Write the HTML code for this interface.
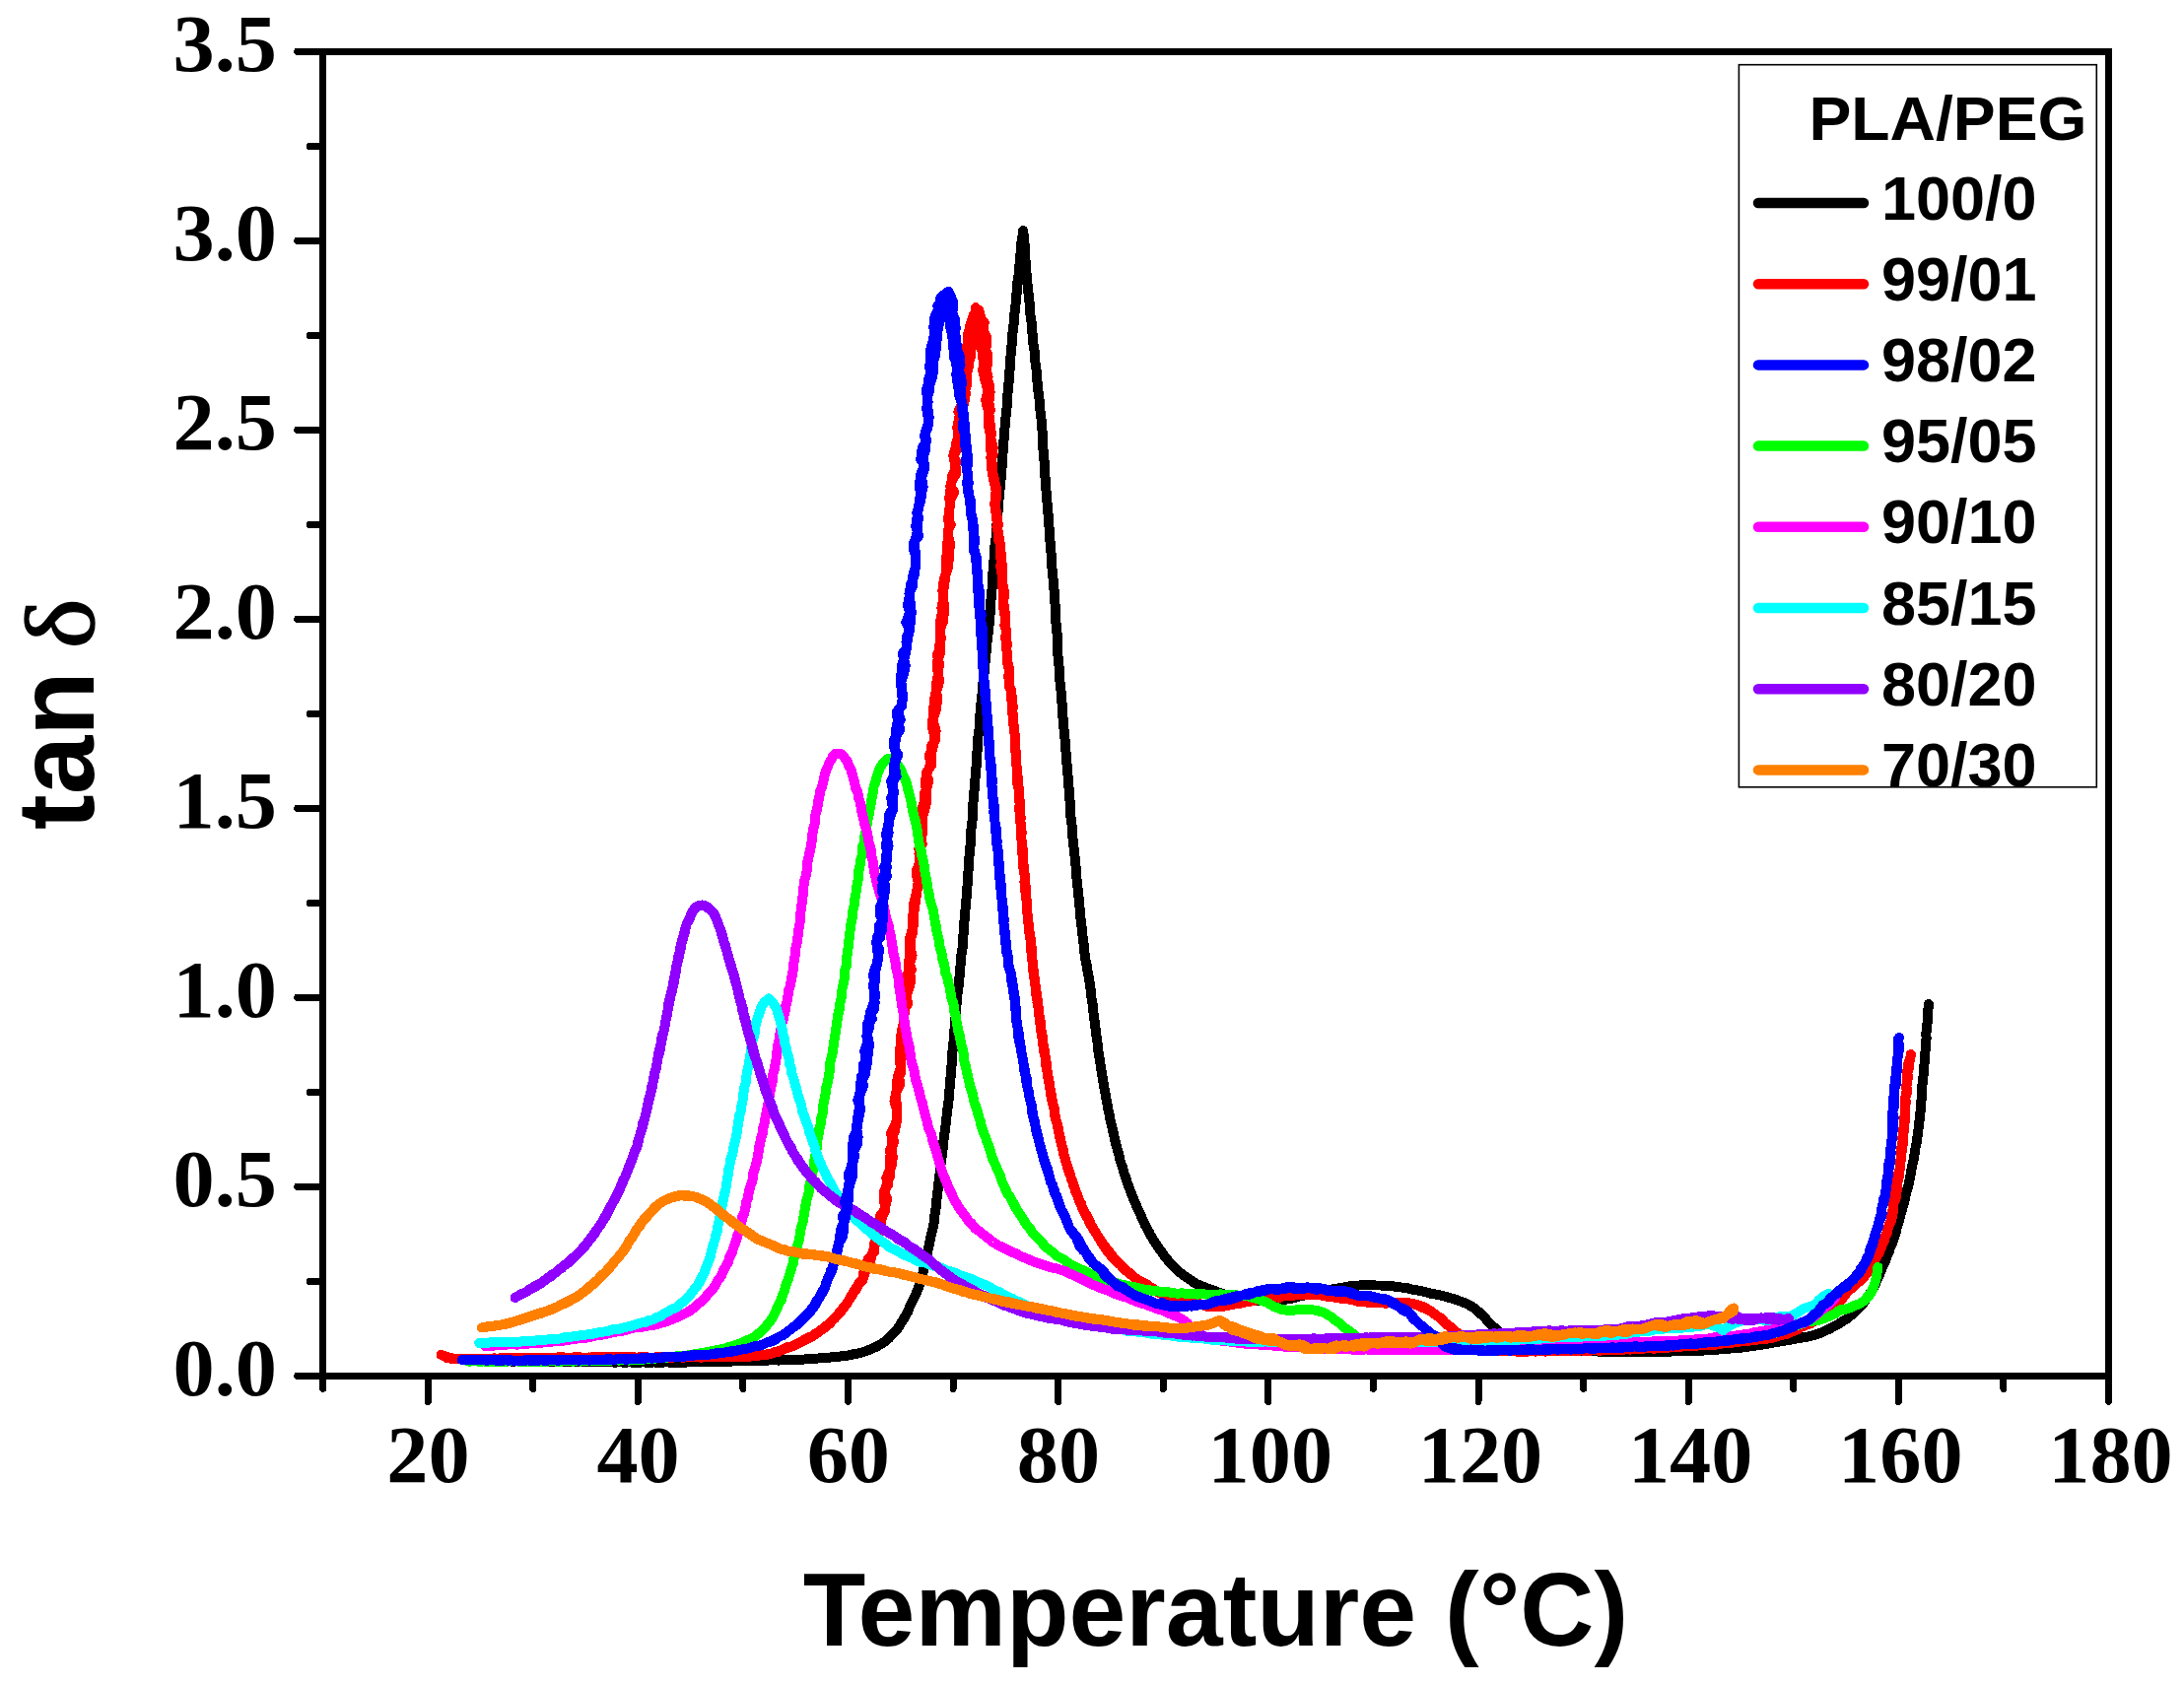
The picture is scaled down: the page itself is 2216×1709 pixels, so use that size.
<!DOCTYPE html>
<html lang="en"><head><meta charset="utf-8"><title>tan delta vs Temperature - PLA/PEG</title>
<style>
html,body{margin:0;padding:0;background:#fff;}
body{width:2216px;height:1709px;overflow:hidden;}
svg{display:block;}
.tick{font-family:"Liberation Serif","DejaVu Serif",serif;font-weight:bold;font-size:81.5px;fill:#000;}
.leg{font-family:"Liberation Sans","DejaVu Sans",sans-serif;font-weight:bold;font-size:63px;fill:#000;}
.axl{font-family:"Liberation Sans","DejaVu Sans",sans-serif;font-weight:bold;fill:#000;}
.crv{fill:none;stroke-width:10;stroke-linecap:round;stroke-linejoin:round;}
.ax{stroke:#000;stroke-width:7;stroke-linecap:round;fill:none;}
</style></head><body>
<svg width="2216" height="1709" viewBox="0 0 2216 1709">
<rect x="0" y="0" width="2216" height="1709" fill="#ffffff"/>
<g id="curves" shape-rendering="crispEdges">
<path class="crv" stroke="#000000" d="M480.0 1381.5L483.0 1381.4L487.0 1381.4L490.1 1381.3L493.1 1381.4L496.1 1381.7L500.2 1381.2L506.3 1381.4L510.4 1381.2L516.5 1381.2L519.5 1381.7L522.5 1381.5L528.6 1381.2L532.6 1381.2L536.6 1381.3L540.6 1381.4L545.5 1381.5L549.4 1381.2L553.3 1381.4L556.2 1381.5L560.0 1381.5L566.2 1381.7L572.3 1381.7L578.4 1381.7L582.3 1382.0L586.3 1381.7L591.2 1382.0L596.1 1382.2L600.9 1382.2L603.9 1382.0L609.8 1382.1L614.8 1382.2L620.9 1382.4L624.0 1382.6L628.9 1382.4L633.8 1382.6L639.9 1382.4L643.0 1382.8L649.1 1382.7L652.2 1382.4L657.4 1382.7L663.6 1382.5L669.8 1382.8L674.9 1382.4L680.9 1382.6L683.9 1382.6L687.8 1382.7L691.7 1382.7L697.3 1382.5L703.2 1382.3L709.5 1382.3L714.5 1382.5L720.2 1382.4L725.0 1382.2L729.8 1382.1L735.6 1382.1L739.5 1381.6L743.6 1381.5L747.8 1381.3L751.8 1381.3L754.6 1381.2L759.4 1381.3L764.5 1381.3L767.5 1381.0L773.8 1380.8L780.1 1380.5L786.6 1380.2L789.8 1380.6L796.1 1380.0L801.4 1380.0L804.4 1379.6L808.5 1379.7L813.3 1379.5L816.2 1379.5L821.6 1378.8L826.2 1378.9L831.9 1378.3L835.2 1378.2L841.5 1377.6L846.5 1377.0L849.5 1377.0L854.2 1376.3L857.9 1375.8L861.6 1375.4L866.7 1374.0L869.8 1373.6L874.8 1372.4L877.7 1371.4L882.3 1369.8L885.8 1368.2L889.4 1366.6L893.9 1364.0L897.4 1361.7L902.1 1357.9L904.9 1354.9L909.0 1350.3L911.1 1348.0L913.8 1343.5L916.1 1340.1L918.6 1335.6L921.2 1331.1L923.0 1326.2L924.4 1323.4L926.2 1319.8L928.7 1314.5L929.9 1311.7L931.9 1307.0L933.0 1304.1L933.9 1301.4L934.9 1297.5L936.0 1293.5L937.1 1288.5L938.7 1282.5L939.5 1279.5L940.5 1275.4L940.7 1272.2L942.2 1266.0L942.9 1262.0L944.1 1256.3L945.2 1251.4L946.2 1247.4L947.1 1244.3L947.6 1241.2L948.3 1237.9L948.3 1234.1L948.9 1230.2L949.6 1226.0L949.9 1220.6L950.9 1214.0L951.3 1210.7L951.8 1205.3L952.5 1199.0L952.9 1195.1L953.4 1192.2L953.8 1188.2L954.1 1184.2L955.0 1178.2L955.4 1175.2L956.1 1170.1L956.9 1164.1L957.4 1161.1L957.4 1158.0L957.9 1153.0L958.5 1150.0L959.0 1147.0L959.2 1144.0L959.8 1140.0L960.4 1134.0L961.1 1128.0L961.6 1124.0L962.3 1119.0L962.7 1115.0L962.9 1111.0L963.5 1105.0L963.9 1102.0L964.2 1096.0L964.9 1091.0L965.4 1087.0L965.4 1082.0L966.1 1078.0L966.3 1074.0L966.3 1071.0L966.6 1065.0L966.9 1061.0L967.8 1055.0L968.0 1049.0L968.4 1044.9L968.8 1041.9L968.9 1038.7L969.5 1032.5L969.7 1029.3L970.3 1024.2L970.3 1021.0L971.1 1017.0L971.0 1014.0L971.4 1009.1L971.9 1005.4L972.5 1001.8L972.8 996.7L973.6 990.7L973.6 987.8L974.1 984.1L974.3 981.3L974.8 978.4L975.1 973.2L975.4 969.2L975.9 966.5L976.6 961.9L977.1 956.0L977.3 951.0L977.6 947.9L978.1 943.8L978.1 939.6L978.4 935.4L979.1 930.2L979.2 926.1L979.6 922.0L980.2 919.0L979.9 916.0L980.5 912.0L981.0 908.0L981.1 905.0L981.5 899.0L982.1 893.0L982.3 888.0L982.5 884.0L982.8 880.0L983.4 875.0L983.3 871.0L983.8 866.0L983.9 863.0L984.7 857.0L985.0 852.0L985.1 847.0L985.4 843.0L985.8 837.0L986.7 832.0L986.7 827.0L987.0 822.0L987.2 818.0L987.7 812.0L988.3 807.0L988.5 803.0L988.6 800.0L988.9 797.0L989.2 794.0L989.6 789.0L989.7 785.0L990.3 781.0L990.8 775.0L991.0 769.0L991.2 765.0L992.0 759.0L992.4 755.0L992.5 752.0L992.4 748.0L992.7 745.0L993.5 740.0L993.9 734.0L994.0 731.0L994.2 727.0L994.5 724.0L994.9 721.0L995.1 718.0L995.4 715.0L995.7 709.0L996.3 706.0L996.7 702.0L996.8 698.0L997.6 692.0L998.0 686.0L998.9 681.0L998.9 677.0L999.5 673.0L1000.1 668.0L1000.2 664.1L1000.7 661.1L1001.1 658.2L1001.5 652.4L1002.0 647.5L1002.8 641.6L1002.9 637.6L1003.5 634.6L1003.5 631.6L1004.0 628.5L1004.7 622.1L1004.7 616.4L1005.0 612.6L1005.3 609.7L1006.0 604.9L1006.2 601.0L1006.7 596.0L1006.7 591.0L1007.3 584.9L1007.4 580.8L1008.2 574.6L1008.5 568.4L1008.8 564.3L1009.3 558.1L1009.5 553.0L1010.3 548.0L1010.6 545.1L1010.8 541.1L1011.0 536.1L1011.3 533.1L1011.6 530.1L1012.2 524.2L1012.3 521.1L1012.8 518.2L1013.1 513.1L1013.3 509.1L1013.8 504.1L1014.1 499.1L1014.8 494.1L1015.4 488.0L1015.9 482.0L1016.1 478.0L1016.5 475.0L1016.7 469.0L1017.2 465.0L1017.5 460.0L1017.7 456.0L1018.3 450.0L1018.6 445.0L1019.1 440.0L1019.4 436.0L1019.8 430.0L1020.1 426.0L1020.9 420.0L1021.5 414.0L1021.8 408.0L1022.0 404.0L1022.4 400.0L1022.7 397.0L1023.0 391.9L1023.7 387.9L1023.9 381.7L1024.3 377.5L1024.9 372.4L1025.1 366.2L1025.5 361.0L1025.8 356.9L1026.3 352.9L1026.8 346.9L1027.4 342.0L1027.3 339.0L1028.1 333.3L1028.7 327.7L1028.8 321.7L1029.9 315.3L1030.5 308.9L1030.8 304.8L1030.9 300.7L1031.6 297.7L1031.8 291.8L1032.1 288.9L1032.6 285.1L1033.1 282.3L1033.7 277.7L1034.0 272.7L1034.8 265.9L1034.8 262.5L1035.5 257.0L1035.9 252.9L1036.5 249.0L1036.4 246.3L1037.2 242.5L1037.9 235.5L1038.1 234.0L1038.6 238.0L1038.8 242.5L1039.5 246.3L1039.6 249.9L1040.1 256.0L1040.1 260.3L1040.7 265.9L1040.7 269.3L1041.4 275.9L1042.0 281.4L1042.2 286.3L1042.7 289.2L1043.1 293.2L1043.5 297.3L1043.9 301.4L1044.5 306.5L1044.9 312.8L1045.4 316.9L1045.5 320.0L1045.9 324.0L1046.6 327.0L1046.9 331.0L1047.3 334.0L1047.6 340.0L1048.1 345.0L1048.3 348.0L1049.2 353.0L1049.9 359.0L1050.1 365.0L1050.8 370.0L1051.3 373.0L1051.8 378.0L1051.9 384.0L1052.4 387.0L1053.0 391.0L1053.3 396.0L1054.2 402.0L1054.8 408.0L1055.4 414.0L1055.6 419.0L1056.5 425.0L1056.9 431.0L1057.5 437.0L1057.5 440.0L1057.8 443.0L1057.7 446.0L1058.3 451.0L1058.4 456.0L1059.0 459.0L1059.0 464.0L1059.8 469.0L1060.0 472.0L1060.3 476.0L1060.3 482.0L1060.8 488.0L1061.3 494.0L1061.5 498.0L1062.3 502.0L1062.2 507.0L1062.6 511.0L1062.9 516.0L1063.6 522.0L1063.7 525.0L1064.1 531.0L1064.5 535.0L1064.7 538.1L1065.3 543.1L1065.4 549.1L1065.9 552.1L1066.2 555.1L1066.5 561.2L1067.1 567.1L1067.2 571.1L1067.4 575.0L1067.6 578.1L1068.2 583.1L1068.6 588.1L1069.1 593.0L1069.4 597.0L1069.7 601.0L1069.9 604.9L1070.4 610.9L1070.6 614.9L1070.8 619.0L1071.0 622.0L1071.5 624.9L1071.4 630.9L1071.7 634.9L1072.4 639.8L1072.6 644.9L1072.7 647.9L1072.6 651.9L1073.1 656.9L1073.4 661.0L1073.5 666.0L1074.1 669.0L1074.4 674.0L1074.7 679.0L1075.0 682.0L1075.4 687.0L1075.4 691.0L1076.0 696.0L1076.5 701.0L1077.0 706.0L1076.9 709.0L1077.7 715.0L1077.6 718.0L1078.0 722.0L1078.3 725.0L1078.7 731.0L1079.1 737.0L1079.8 742.0L1080.1 745.0L1080.5 750.0L1080.6 753.0L1081.1 758.0L1081.6 764.0L1081.8 768.0L1082.3 774.0L1083.1 780.0L1083.2 783.0L1083.6 788.0L1084.0 792.0L1084.0 795.0L1084.7 801.0L1084.7 806.0L1085.3 810.0L1085.7 815.0L1085.6 819.0L1086.1 822.0L1086.5 826.0L1086.4 829.0L1087.3 835.0L1087.9 841.0L1088.0 845.0L1088.4 849.0L1088.6 853.0L1089.2 857.0L1089.5 860.0L1089.9 864.0L1090.3 867.0L1090.7 871.0L1090.7 874.0L1091.5 879.0L1091.8 885.0L1092.3 890.0L1092.8 895.0L1093.5 901.0L1094.0 906.0L1094.7 912.0L1094.8 915.0L1095.5 921.0L1096.0 927.1L1096.6 933.3L1097.4 939.6L1097.9 942.7L1098.4 948.9L1099.0 955.0L1099.6 958.0L1100.0 961.9L1100.3 966.6L1101.0 969.2L1101.6 975.4L1102.6 979.3L1102.6 982.3L1103.5 985.0L1104.5 990.7L1105.0 994.6L1106.0 998.8L1106.5 1003.5L1107.3 1008.2L1107.5 1013.0L1108.6 1019.0L1109.3 1025.2L1109.7 1030.4L1110.4 1034.6L1110.8 1037.7L1111.6 1043.9L1112.0 1049.0L1113.1 1055.0L1113.8 1060.0L1114.0 1063.1L1114.6 1068.2L1115.6 1074.2L1116.2 1077.2L1116.9 1083.2L1117.9 1088.2L1118.6 1093.2L1119.5 1098.0L1120.0 1101.0L1120.6 1105.1L1121.3 1108.2L1122.2 1113.2L1122.9 1118.3L1123.7 1121.2L1124.5 1126.3L1125.8 1132.2L1126.6 1137.2L1127.6 1141.1L1128.5 1144.0L1128.9 1147.0L1130.3 1152.0L1131.3 1157.1L1132.8 1163.1L1134.0 1167.0L1135.6 1172.9L1136.1 1176.0L1137.3 1179.8L1139.3 1185.5L1140.2 1189.6L1142.0 1194.5L1143.5 1199.5L1144.6 1202.4L1146.4 1207.2L1148.6 1213.0L1150.9 1218.6L1152.2 1221.3L1153.2 1224.1L1154.9 1227.8L1156.3 1230.7L1158.0 1234.5L1159.6 1238.3L1162.2 1243.8L1164.2 1247.3L1165.7 1249.9L1166.8 1252.6L1170.0 1257.8L1171.7 1260.4L1174.9 1265.7L1178.5 1270.5L1181.9 1275.2L1183.6 1277.4L1185.7 1279.8L1188.9 1283.8L1192.5 1287.3L1196.9 1291.3L1201.1 1294.4L1204.6 1296.8L1207.3 1298.6L1210.7 1301.0L1214.2 1303.1L1218.9 1305.0L1224.3 1307.2L1228.5 1308.7L1233.4 1310.4L1236.1 1311.5L1241.9 1313.5L1246.0 1314.5L1251.2 1316.1L1257.5 1317.4L1260.4 1317.9L1264.4 1318.3L1267.4 1318.7L1271.4 1319.2L1275.5 1319.8L1278.7 1319.7L1281.8 1320.2L1284.9 1320.0L1290.0 1320.1L1293.0 1320.4L1299.1 1319.5L1303.2 1319.0L1306.2 1318.4L1309.3 1318.1L1314.3 1316.8L1318.3 1315.6L1322.2 1314.7L1327.1 1313.6L1330.0 1312.9L1335.1 1311.7L1340.3 1311.1L1346.4 1309.8L1349.3 1309.1L1352.1 1308.4L1354.9 1307.8L1357.6 1307.4L1361.8 1306.8L1364.9 1306.2L1369.9 1305.3L1372.9 1305.1L1377.9 1304.7L1380.8 1304.2L1386.8 1304.0L1390.8 1304.4L1396.0 1304.5L1400.8 1304.5L1404.8 1304.5L1408.8 1305.2L1412.9 1305.3L1415.9 1305.8L1419.0 1306.0L1422.0 1306.5L1427.1 1307.0L1433.0 1308.6L1436.0 1309.0L1439.0 1309.6L1444.0 1310.7L1448.0 1311.6L1452.1 1312.8L1456.2 1313.4L1459.3 1314.0L1464.3 1315.2L1470.1 1316.8L1475.2 1318.1L1481.0 1320.3L1485.6 1322.0L1489.0 1323.4L1492.9 1325.7L1497.3 1328.6L1500.4 1331.4L1503.3 1334.2L1507.0 1337.7L1510.3 1341.7L1513.7 1345.3L1516.2 1347.2L1518.5 1349.2L1521.3 1351.7L1525.6 1354.3L1531.2 1357.1L1534.0 1358.6L1536.8 1359.6L1542.1 1361.7L1544.9 1362.6L1550.6 1364.5L1555.7 1365.6L1560.0 1366.4L1565.5 1367.2L1569.2 1368.2L1575.1 1368.7L1581.1 1369.4L1585.3 1369.6L1588.4 1369.7L1593.7 1370.0L1596.8 1370.5L1600.9 1370.7L1604.8 1370.7L1610.6 1371.1L1613.6 1371.3L1619.6 1371.4L1623.6 1371.7L1628.7 1371.8L1634.8 1372.0L1637.9 1371.6L1641.9 1371.7L1646.0 1372.0L1649.0 1372.2L1655.0 1372.1L1660.9 1372.1L1665.7 1372.1L1671.6 1372.2L1677.5 1371.9L1681.5 1371.9L1684.5 1372.0L1689.5 1371.9L1694.7 1371.6L1700.9 1371.2L1703.8 1371.3L1709.6 1371.2L1714.5 1371.0L1717.6 1370.7L1723.7 1370.8L1727.8 1370.6L1734.0 1370.0L1738.2 1369.6L1741.3 1369.8L1745.4 1369.3L1749.5 1369.2L1753.5 1368.7L1759.4 1368.2L1764.2 1367.9L1768.1 1367.5L1774.5 1366.5L1778.8 1365.9L1785.2 1365.1L1791.5 1364.1L1797.6 1362.8L1802.5 1362.1L1807.3 1361.2L1812.7 1360.2L1815.3 1359.9L1820.4 1358.7L1825.8 1358.2L1828.8 1357.3L1833.7 1356.7L1837.4 1355.8L1842.0 1354.6L1845.0 1353.6L1848.9 1352.2L1853.4 1349.9L1856.2 1348.8L1859.6 1346.8L1865.1 1343.9L1868.6 1341.6L1873.9 1338.4L1877.2 1335.7L1879.7 1333.8L1883.4 1330.1L1886.5 1327.2L1890.6 1322.5L1892.4 1320.0L1895.4 1315.7L1897.8 1312.1L1899.4 1309.4L1901.5 1305.8L1903.2 1302.2L1904.4 1299.3L1906.5 1294.6L1909.0 1288.9L1911.2 1283.1L1913.9 1277.5L1914.7 1274.5L1916.9 1269.7L1917.8 1266.7L1919.2 1263.9L1921.0 1259.1L1921.8 1256.2L1923.7 1250.5L1924.5 1246.5L1926.4 1240.8L1927.5 1235.9L1929.0 1231.0L1930.1 1227.0L1931.5 1222.0L1932.4 1219.1L1933.5 1214.0L1934.9 1208.0L1936.3 1203.1L1937.5 1198.1L1938.7 1192.0L1939.4 1187.0L1940.4 1182.0L1941.3 1179.1L1941.7 1176.1L1942.8 1170.2L1943.3 1167.2L1943.6 1164.1L1944.7 1160.0L1945.4 1154.2L1945.9 1151.2L1946.6 1145.2L1946.8 1142.1L1947.7 1136.1L1947.8 1132.0L1948.6 1128.0L1949.1 1122.0L1949.2 1119.0L1949.7 1115.0L1950.1 1110.0L1950.2 1106.0L1950.4 1101.0L1950.9 1098.0L1951.3 1095.0L1951.7 1089.0L1952.2 1083.0L1952.5 1080.0L1952.8 1076.0L1953.3 1070.0L1953.5 1067.0L1953.9 1062.9L1953.9 1059.8L1954.2 1056.7L1954.6 1053.7L1954.4 1050.6L1954.5 1047.6L1954.8 1044.7L1955.2 1040.9L1955.7 1036.8L1956.0 1031.7L1956.4 1027.8L1956.4 1024.9L1957.0 1019.0"/>
<path class="crv" style="stroke-width:12" stroke="#ff0000" d="M973.3 417.9L977.1 409.8L977.1 398.6L979.7 391.6L979.9 380.3L982.2 369.8L982.5 358.6L983.7 350.9L985.9 339.2L986.2 329.3L987.5 323.8L988.7 319.8"/>
<path class="crv" style="stroke-width:12" stroke="#ff0000" d="M993.7 319.8L994.3 329.3L997.5 334.1L996.6 340.2L998.2 345.6L998.5 355.6L998.4 364.4L1000.3 371.5L999.6 378.9L1000.0 384.3L1003.1 391.3L1003.0 398.0L1001.3 406.0L1002.7 411.0L1003.8 416.1L1003.5 417.2"/>
<path class="crv" style="stroke-width:13.5" stroke="#ff0000" d="M979.3 382.4L979.1 374.0L981.8 365.7L983.1 360.6L983.3 351.8L985.7 343.4L985.7 332.1L987.0 327.5"/>
<path class="crv" style="stroke-width:13.5" stroke="#ff0000" d="M997.0 327.5L994.7 333.1L998.0 340.2L996.6 351.8L1000.2 359.4L1000.5 368.4L998.8 375.7L1000.8 382.1"/>
<path class="crv" style="stroke-width:15" stroke="#ff0000" d="M984.0 350.9L984.4 340.2L985.5 337.1"/>
<path class="crv" style="stroke-width:15" stroke="#ff0000" d="M995.5 337.1L998.3 342.4L999.0 350.0L998.1 350.9"/>
<path class="crv" stroke="#ff0000" d="M447.5 1375.0L450.4 1375.9L456.1 1377.8L458.7 1378.2L462.9 1379.4L465.1 1379.0L466.9 1379.1L471.1 1379.1L474.3 1379.7L479.5 1378.7L483.4 1379.5L488.4 1379.1L494.9 1379.5L501.6 1379.1L507.4 1378.3L510.9 1378.5L518.0 1378.1L521.6 1378.3L525.2 1378.4L529.9 1378.4L534.5 1378.3L538.0 1378.1L542.5 1377.7L549.0 1378.3L554.9 1377.7L559.8 1378.4L565.8 1377.4L568.8 1377.9L573.9 1378.1L580.0 1377.8L584.1 1377.6L589.2 1377.8L592.3 1378.1L596.4 1377.5L599.5 1377.5L603.6 1377.4L609.7 1377.4L614.8 1378.1L620.8 1377.2L626.8 1377.2L629.8 1377.2L633.8 1377.3L636.7 1377.9L642.5 1377.4L646.3 1377.6L650.0 1377.1L656.4 1377.4L659.6 1377.6L664.9 1377.7L668.0 1376.9L671.2 1377.7L676.4 1377.0L682.5 1377.7L685.6 1377.0L689.6 1377.2L692.6 1377.7L697.6 1377.1L702.5 1376.7L708.3 1376.9L711.1 1377.7L714.9 1376.8L720.5 1377.0L723.2 1376.7L727.2 1377.0L733.8 1377.2L740.2 1376.4L746.6 1376.9L752.8 1376.7L755.8 1376.9L761.6 1376.4L766.3 1376.0L769.0 1375.4L774.1 1374.7L778.4 1374.7L781.5 1373.9L787.2 1372.2L790.9 1370.9L795.4 1369.3L798.8 1367.3L804.0 1366.4L808.8 1364.3L814.1 1360.8L818.6 1358.2L824.4 1356.0L828.6 1353.1L832.6 1350.1L836.8 1347.4L840.6 1344.2L842.5 1341.8L846.3 1338.5L849.5 1334.6L853.8 1330.2L857.1 1326.1L859.9 1321.8L861.9 1318.3L863.4 1315.6L865.3 1313.1L868.4 1309.0L869.5 1306.1L872.3 1301.7L875.4 1297.5L877.0 1288.0L881.0 1277.4L887.1 1270.7L887.6 1258.3L890.3 1250.9L893.9 1245.3L892.9 1234.2L897.5 1227.9L900.1 1216.9L897.0 1209.2L901.3 1201.9L899.3 1195.5L904.5 1183.7L905.9 1174.3L902.7 1168.2L907.3 1158.7L905.2 1152.4L908.2 1147.5L908.9 1141.4L910.5 1131.3L910.3 1125.1L909.7 1120.0L908.9 1109.7L913.5 1099.9L912.0 1093.6L914.5 1087.8L913.1 1077.8L913.0 1070.7L913.7 1059.4L914.1 1053.4L914.9 1045.5L916.8 1038.8L916.5 1030.7L916.8 1025.6L921.1 1018.8L919.5 1008.6L922.3 1001.1L920.3 989.2L925.0 984.0L921.9 976.7L923.5 968.6L922.7 962.6L923.3 951.4L926.8 939.4L926.7 929.8L928.5 918.0L929.9 907.4L931.9 895.2L929.8 887.9L933.3 876.0L932.5 866.8L934.8 857.8L935.6 846.8L936.2 834.8L935.1 828.7L934.5 823.7L937.9 813.8L938.4 804.3L940.4 799.4L942.5 792.3L939.7 786.7L942.5 779.9L945.0 773.2L945.4 762.5L945.2 756.8L948.7 752.0L949.6 741.5L946.2 731.2L949.5 721.6L951.3 709.7L950.2 701.5L953.1 691.5L951.3 680.1L953.4 675.1L950.9 665.0L953.6 657.4L953.9 645.2L954.1 638.4L957.2 629.7L958.0 617.4L957.3 608.7L957.2 599.5L959.0 587.0L959.8 580.7L960.0 568.4L960.6 562.4L961.5 550.2L961.6 539.1L964.8 532.4L961.9 527.2L963.2 518.4L964.2 507.4L968.3 499.5L964.3 494.0L966.4 486.0L970.0 481.2L969.3 476.1L969.7 467.3L967.3 462.3L969.6 453.9L970.6 447.9L973.4 443.1L972.4 437.0L973.2 429.0L977.1 418.2L976.2 406.8L974.9 400.4L980.9 390.9L980.8 379.4L980.5 369.8L985.1 362.0L980.8 352.4L983.9 340.1L984.4 332.9L990.0 322.9L990.0 312.1L993.2 319.9L994.3 331.4L998.8 339.0L1000.2 351.6L1000.6 361.3L1000.0 367.4L998.2 380.2L1000.8 390.4L1002.2 397.0L1002.5 405.0L1002.7 415.2L1003.7 422.3L1004.7 430.4L1005.7 438.5L1005.4 445.5L1007.8 454.4L1005.3 464.6L1007.0 471.5L1007.2 482.6L1009.5 492.5L1011.2 501.6L1009.9 513.0L1011.7 525.0L1011.7 528.0L1013.0 531.8L1011.4 534.8L1012.9 539.6L1012.5 546.0L1013.4 548.9L1014.8 551.8L1015.0 557.8L1015.5 560.7L1016.1 563.6L1015.9 568.7L1015.3 574.0L1015.6 577.9L1016.6 582.7L1017.2 585.6L1017.4 591.6L1017.1 595.6L1018.0 598.6L1017.6 604.7L1018.1 610.8L1018.1 614.9L1018.5 619.0L1019.5 624.0L1019.8 629.9L1020.2 635.9L1021.2 640.8L1021.1 645.9L1020.6 648.9L1022.0 653.9L1021.3 658.0L1021.9 664.0L1022.1 668.0L1021.9 671.0L1023.5 675.9L1024.0 681.9L1024.2 684.9L1024.5 691.0L1024.2 695.0L1025.7 700.9L1026.8 706.9L1026.8 712.0L1026.8 718.0L1027.3 721.0L1027.9 726.0L1028.3 729.0L1028.5 735.0L1029.2 741.0L1029.6 745.0L1029.5 749.0L1029.6 754.0L1030.1 760.0L1030.7 766.0L1030.7 772.0L1031.1 775.0L1031.7 779.0L1031.9 784.0L1032.6 788.0L1032.2 791.0L1032.4 796.0L1033.7 801.0L1033.6 805.0L1033.6 811.0L1034.8 816.0L1034.4 822.0L1034.6 825.0L1035.7 829.0L1035.4 833.0L1036.1 839.0L1036.7 845.0L1036.1 850.0L1037.0 856.0L1037.4 862.0L1037.5 868.0L1037.7 873.0L1038.0 876.0L1039.1 879.0L1038.9 884.0L1040.0 890.0L1039.4 895.0L1040.8 900.0L1040.6 904.0L1040.8 910.0L1041.5 913.0L1041.6 916.0L1042.2 919.0L1042.1 923.0L1042.6 928.1L1043.1 933.2L1043.6 938.3L1043.8 942.4L1044.7 946.5L1045.6 951.5L1046.3 957.5L1046.5 960.5L1046.9 966.3L1047.5 971.0L1047.2 974.2L1048.1 979.3L1048.2 983.4L1048.7 988.3L1050.0 993.1L1050.0 998.0L1050.6 1000.9L1051.2 1006.0L1051.5 1011.0L1052.8 1014.7L1052.5 1017.8L1053.4 1021.7L1053.9 1027.6L1054.9 1032.6L1055.3 1037.7L1056.2 1041.7L1056.5 1048.0L1057.3 1052.0L1057.9 1056.8L1058.5 1061.8L1059.0 1064.8L1059.7 1069.9L1060.7 1072.8L1060.9 1075.9L1061.4 1082.1L1062.1 1086.1L1063.3 1089.0L1063.1 1092.2L1064.2 1097.1L1064.7 1101.1L1065.7 1105.1L1066.6 1110.2L1067.7 1116.3L1067.9 1119.4L1069.3 1124.3L1070.3 1130.3L1070.5 1133.4L1071.5 1137.3L1072.8 1141.1L1074.0 1146.0L1074.6 1151.1L1075.2 1154.1L1076.5 1158.0L1077.3 1163.0L1079.2 1167.7L1079.4 1171.8L1080.9 1175.5L1081.5 1179.4L1082.7 1183.2L1083.8 1187.1L1085.9 1192.8L1087.2 1196.7L1088.5 1199.4L1090.1 1204.3L1091.1 1208.1L1092.4 1210.8L1093.3 1213.7L1095.0 1218.3L1096.2 1221.1L1097.9 1224.8L1099.2 1227.6L1101.7 1232.1L1104.1 1236.6L1104.8 1239.7L1106.8 1243.2L1108.9 1245.5L1111.6 1250.9L1114.3 1255.3L1116.1 1257.9L1119.6 1263.0L1123.4 1267.8L1127.1 1272.4L1129.4 1275.7L1133.9 1280.3L1137.4 1284.2L1140.5 1288.3L1145.6 1291.5L1147.7 1293.7L1150.0 1295.7L1153.2 1297.8L1155.8 1299.3L1159.4 1301.1L1164.3 1304.5L1166.7 1306.4L1171.5 1308.6L1176.2 1311.0L1180.7 1313.8L1185.4 1315.7L1189.4 1316.7L1192.4 1317.4L1197.5 1318.4L1200.4 1319.5L1205.4 1321.0L1208.6 1320.8L1213.4 1322.9L1218.4 1324.1L1224.5 1325.2L1230.5 1326.1L1236.5 1326.0L1241.5 1325.5L1246.5 1324.7L1249.6 1324.3L1252.4 1323.1L1255.6 1323.1L1258.6 1322.7L1261.5 1321.9L1265.5 1321.2L1271.5 1320.0L1274.5 1319.6L1279.5 1318.9L1283.6 1318.9L1289.5 1317.4L1294.5 1316.4L1298.6 1316.6L1303.4 1314.7L1306.4 1314.4L1310.5 1314.8L1314.5 1314.4L1318.5 1314.5L1321.5 1313.5L1326.5 1313.8L1330.5 1314.4L1334.5 1314.3L1339.5 1314.4L1345.5 1315.5L1349.5 1316.0L1355.6 1316.3L1359.5 1317.2L1365.6 1317.9L1370.6 1318.7L1373.5 1319.4L1377.4 1320.6L1383.5 1320.8L1389.6 1321.3L1392.6 1322.2L1396.7 1322.3L1400.7 1322.3L1406.6 1321.7L1412.7 1322.3L1418.7 1321.8L1423.7 1322.2L1428.6 1321.9L1432.6 1323.1L1436.6 1323.7L1441.5 1325.1L1447.0 1327.7L1450.3 1330.0L1455.5 1333.2L1458.6 1335.8L1463.6 1339.4L1465.7 1341.9L1468.9 1344.6L1473.2 1349.1L1476.4 1351.8L1478.8 1353.6L1481.5 1355.1L1484.5 1358.0L1487.1 1361.1L1491.8 1365.4L1497.4 1367.6L1501.9 1368.6L1507.9 1369.1L1514.3 1369.9L1520.0 1369.9L1523.4 1371.3L1527.9 1371.0L1530.7 1371.1L1533.5 1370.7L1539.4 1371.7L1543.4 1371.1L1548.6 1371.8L1552.8 1370.9L1558.2 1371.6L1562.6 1370.8L1567.9 1371.6L1570.6 1371.3L1573.3 1371.1L1576.1 1370.8L1579.9 1371.3L1585.8 1371.2L1590.7 1371.3L1595.7 1370.7L1600.8 1370.2L1607.0 1370.6L1611.2 1370.8L1615.3 1370.5L1621.5 1370.2L1627.8 1370.5L1632.9 1370.3L1638.0 1369.2L1641.0 1369.8L1647.1 1369.9L1650.1 1368.9L1654.1 1368.6L1658.3 1368.7L1663.5 1369.3L1666.5 1368.9L1670.7 1368.2L1673.8 1368.5L1676.9 1368.1L1681.0 1368.5L1686.1 1367.5L1692.1 1367.8L1697.1 1367.0L1703.0 1366.5L1708.7 1366.4L1712.4 1365.8L1715.2 1366.5L1721.4 1365.6L1725.6 1365.3L1730.9 1365.0L1734.0 1364.3L1737.1 1364.2L1742.1 1363.5L1746.1 1363.7L1750.0 1363.2L1753.8 1362.6L1757.7 1362.7L1762.3 1361.9L1766.1 1361.5L1771.3 1360.6L1776.7 1359.9L1783.1 1359.2L1789.4 1359.3L1793.4 1358.5L1798.1 1357.8L1801.5 1356.4L1805.1 1355.6L1808.2 1354.4L1813.2 1353.6L1818.4 1351.1L1821.8 1349.2L1826.6 1347.2L1831.2 1345.2L1836.9 1342.8L1839.9 1341.6L1844.6 1339.2L1848.3 1337.5L1851.6 1334.9L1853.8 1332.8L1856.9 1330.2L1860.4 1326.6L1863.0 1324.8L1864.8 1322.4L1868.6 1317.7L1872.2 1312.7L1876.1 1309.2L1881.2 1305.2L1885.8 1301.2L1888.3 1299.4L1890.6 1295.7L1894.3 1292.1L1896.8 1288.8L1899.8 1284.3L1900.6 1281.1L1902.6 1277.4L1906.2 1272.3L1908.2 1267.6L1909.3 1264.8L1911.2 1259.0L1912.7 1255.4L1914.1 1252.8L1914.7 1248.8L1916.7 1243.0L1919.1 1237.5L1920.3 1233.6L1920.0 1230.2L1920.6 1227.1L1921.6 1220.9L1923.6 1216.1L1922.8 1211.9L1923.8 1207.0L1924.6 1202.1L1926.0 1197.1L1926.9 1194.2L1926.8 1190.3L1927.7 1185.4L1928.3 1181.5L1928.2 1178.4L1928.9 1175.4L1928.6 1171.2L1928.9 1167.0L1929.8 1161.1L1930.8 1158.2L1931.1 1152.1L1931.3 1149.0L1931.1 1145.9L1932.2 1142.9L1932.5 1139.8L1932.5 1133.7L1933.5 1128.7L1933.3 1122.4L1933.8 1118.2L1933.1 1115.0L1933.7 1110.9L1934.7 1106.9L1934.1 1102.0L1935.5 1096.4L1935.5 1089.7L1935.3 1086.5L1937.0 1082.7L1936.3 1079.0L1937.8 1076.4L1938.8 1070.0"/>
<path class="crv" stroke="#ff0000" d="M447.5 1375.0L450.5 1375.8L453.0 1377.8L458.7 1379.0L464.0 1378.7L465.7 1378.9L468.2 1378.8L471.9 1378.9L475.1 1378.7L480.5 1378.7L485.4 1379.3L491.6 1378.7L494.9 1379.3L501.6 1378.3L507.4 1379.3L512.1 1378.3L519.2 1378.2L522.8 1379.0L529.9 1378.8L533.4 1378.8L538.0 1378.7L542.5 1378.3L545.8 1377.9L550.0 1377.7L554.9 1378.0L557.8 1377.6L563.8 1378.3L567.8 1377.4L571.8 1377.3L575.9 1378.3L580.0 1377.6L583.0 1377.3L588.2 1377.3L591.2 1377.7L597.4 1377.5L602.5 1378.0L608.7 1377.2L614.8 1377.1L620.8 1377.3L624.9 1377.3L628.8 1377.5L631.8 1378.0L636.7 1377.1L642.5 1377.1L645.3 1377.6L649.1 1378.1L652.1 1377.0L655.3 1377.9L660.7 1377.8L667.0 1377.3L673.3 1377.6L676.4 1377.8L680.5 1377.8L686.6 1376.8L692.6 1377.0L698.6 1377.5L701.5 1377.4L704.4 1376.8L710.2 1377.5L714.0 1377.3L719.5 1377.0L722.3 1376.9L728.3 1377.0L732.7 1377.3L739.2 1377.0L742.4 1376.4L748.7 1377.0L751.8 1376.8L757.8 1376.9L760.7 1376.6L765.3 1375.5L768.1 1376.0L773.3 1374.7L777.2 1374.5L782.5 1373.9L786.2 1372.1L789.2 1372.1L792.6 1370.2L798.1 1368.1L801.0 1367.3L804.8 1365.6L808.5 1363.7L811.4 1362.5L817.2 1360.0L822.7 1357.1L827.6 1353.4L831.3 1351.6L834.9 1348.2L837.1 1346.2L841.6 1343.8L843.4 1341.3L847.1 1337.9L850.5 1334.1L854.0 1330.3L855.4 1327.5L858.3 1324.5L861.0 1320.1L864.3 1314.9L866.4 1310.2L868.9 1306.9L870.8 1303.2L875.5 1298.7L877.5 1292.7L879.7 1283.5L883.2 1279.3L886.3 1268.3L889.3 1258.9L892.7 1247.2L893.7 1241.4L895.5 1233.7L898.3 1228.1L896.8 1216.4L897.3 1210.3L900.4 1199.7L902.9 1194.0L902.7 1184.6L902.5 1176.0L905.3 1167.5L905.3 1158.5L904.1 1150.2L909.7 1138.4L910.2 1126.2L907.5 1117.8L909.6 1106.7L909.7 1101.5L910.9 1092.5L913.2 1086.7L914.6 1075.1L914.9 1067.7L916.8 1056.7L916.9 1045.7L916.6 1035.8L917.5 1029.8L918.3 1023.6L918.2 1016.5L919.4 1011.6L923.3 1000.2L924.2 993.3L922.0 981.8L925.6 969.6L923.8 963.6L923.9 953.4L926.1 946.6L925.6 934.0L926.9 924.4L927.3 916.8L929.4 908.4L930.5 902.2L932.7 890.2L929.7 883.8L933.5 875.0L933.9 866.9L932.3 861.7L935.7 856.9L933.4 846.5L933.1 837.4L936.7 826.9L939.5 817.1L940.5 806.7L939.0 796.0L940.0 783.7L945.3 776.3L942.6 766.9L946.4 759.7L948.2 747.6L945.5 736.1L947.5 728.3L947.2 720.4L947.9 710.4L949.7 701.5L950.0 693.3L951.9 685.2L951.3 679.0L950.9 671.9L954.3 662.3L952.9 656.3L954.9 648.2L953.6 638.4L954.0 631.5L955.9 622.1L955.4 617.2L957.2 607.6L956.4 599.4L957.3 591.1L958.4 585.9L962.3 574.7L962.8 562.6L964.1 552.4L962.6 546.2L961.5 541.1L963.0 535.3L962.7 526.3L963.1 517.4L964.1 512.4L963.2 505.2L964.8 494.0L966.1 482.9L969.9 475.1L967.5 463.2L969.8 458.2L971.5 451.0L972.2 444.0L971.3 433.8L972.5 427.9L974.9 415.9L978.7 407.1L979.8 400.0L978.5 387.5L979.4 376.0L981.9 366.8L981.4 356.4L983.5 345.5L986.8 333.2L988.0 326.0L992.9 315.0L993.5 314.7L993.9 328.7L997.6 336.0L997.8 343.4L997.9 351.9L1000.8 358.3L1001.4 363.2L999.6 374.7L999.7 386.5L1004.6 397.8L1004.0 404.9L1001.1 411.2L1003.3 417.2L1002.9 427.5L1003.7 436.6L1005.1 441.5L1005.1 449.6L1004.7 456.6L1007.6 461.4L1005.6 466.6L1006.2 472.6L1006.5 477.6L1008.2 483.5L1011.0 495.5L1010.1 502.7L1009.3 512.0L1010.4 520.1L1010.9 523.1L1011.0 527.0L1013.0 531.8L1012.3 536.6L1012.7 541.8L1014.2 547.9L1014.7 552.8L1015.2 557.7L1014.6 563.8L1015.7 568.8L1017.1 573.9L1017.2 578.8L1016.6 582.7L1016.5 585.7L1017.4 588.6L1017.3 592.6L1018.5 597.5L1018.5 600.6L1018.9 604.6L1018.2 609.8L1018.7 614.9L1018.9 619.0L1020.5 622.9L1019.7 628.9L1019.4 634.9L1020.3 637.9L1021.2 642.8L1019.9 646.9L1021.5 651.9L1020.8 658.0L1022.4 663.9L1021.5 670.0L1022.8 675.0L1024.0 680.9L1023.0 687.1L1024.2 691.0L1024.2 697.1L1026.2 700.9L1026.2 707.0L1026.6 713.0L1027.9 716.9L1027.1 722.0L1027.6 727.0L1028.4 730.0L1027.9 733.0L1028.5 737.0L1028.8 741.0L1029.5 744.0L1029.8 750.0L1030.3 755.0L1029.7 758.0L1030.9 763.0L1031.3 769.0L1031.2 773.0L1031.7 779.0L1032.0 783.0L1032.5 789.0L1032.6 792.0L1033.5 798.0L1033.8 803.0L1034.3 809.0L1034.8 815.0L1034.2 819.0L1035.3 825.0L1035.4 829.0L1035.0 833.0L1035.8 836.0L1035.5 840.0L1035.8 843.0L1036.2 847.0L1036.1 850.0L1036.8 854.0L1037.4 857.0L1037.5 860.0L1037.8 864.0L1037.8 867.0L1037.7 872.0L1038.1 876.0L1038.3 881.0L1039.3 884.0L1040.0 890.0L1040.1 896.0L1040.4 901.0L1040.5 906.0L1041.0 909.0L1042.0 915.0L1041.5 918.0L1042.3 923.0L1042.4 926.1L1042.8 931.2L1043.4 936.3L1044.2 940.3L1044.4 946.5L1045.2 951.5L1045.9 956.5L1046.1 962.5L1046.6 967.3L1046.8 971.0L1047.5 974.2L1047.9 980.4L1048.6 984.3L1049.3 987.2L1049.4 993.1L1050.2 996.0L1050.8 1001.9L1051.2 1004.9L1052.3 1010.9L1052.4 1013.8L1052.8 1019.7L1054.0 1023.6L1054.0 1029.7L1055.6 1035.6L1055.5 1039.7L1056.0 1042.8L1056.9 1047.9L1058.1 1053.8L1058.5 1059.8L1058.9 1062.8L1059.9 1065.7L1060.6 1071.8L1061.1 1074.9L1061.7 1078.9L1062.3 1084.0L1062.7 1088.1L1063.8 1094.1L1064.9 1099.0L1065.4 1105.2L1066.1 1110.3L1067.0 1115.4L1068.6 1121.3L1069.6 1124.3L1070.0 1128.3L1070.8 1133.3L1071.4 1136.3L1073.1 1142.0L1073.5 1146.1L1074.4 1150.1L1075.5 1153.0L1076.4 1159.0L1078.0 1164.9L1079.1 1169.8L1080.0 1173.7L1080.9 1176.5L1082.6 1182.2L1083.2 1185.1L1084.7 1187.9L1085.9 1191.8L1086.7 1195.8L1088.1 1198.5L1089.0 1202.5L1090.8 1207.2L1091.5 1210.1L1092.9 1212.8L1095.0 1218.3L1097.1 1221.8L1098.5 1226.8L1100.4 1230.5L1103.3 1235.9L1105.5 1239.3L1107.9 1244.9L1109.4 1247.5L1111.3 1249.8L1113.2 1253.5L1116.3 1257.7L1117.9 1261.7L1120.6 1264.8L1122.6 1268.4L1126.3 1273.1L1128.9 1276.1L1133.2 1280.9L1136.6 1283.5L1140.2 1287.2L1143.4 1289.6L1146.9 1293.0L1149.3 1295.0L1153.0 1298.1L1158.3 1300.9L1162.9 1303.0L1167.8 1306.6L1172.4 1309.1L1175.8 1311.8L1178.6 1313.2L1183.5 1314.9L1189.3 1316.9L1193.3 1318.1L1199.4 1319.5L1203.5 1319.8L1208.4 1321.7L1211.4 1322.4L1214.5 1322.5L1220.6 1324.0L1225.4 1325.9L1228.5 1325.8L1234.5 1326.0L1240.5 1326.1L1246.5 1324.5L1250.5 1323.8L1254.5 1323.2L1259.5 1322.3L1262.4 1321.2L1267.5 1320.6L1270.5 1320.5L1273.4 1319.6L1279.4 1318.5L1283.6 1318.9L1288.4 1317.1L1292.4 1316.6L1295.5 1316.5L1300.4 1315.4L1306.5 1314.7L1310.5 1314.4L1313.5 1313.9L1318.5 1314.0L1322.5 1313.9L1327.5 1314.4L1331.5 1314.0L1335.5 1313.6L1339.5 1314.4L1344.5 1315.3L1347.5 1315.8L1351.5 1316.1L1355.5 1316.8L1359.5 1317.4L1363.4 1318.5L1366.5 1318.2L1371.6 1319.0L1374.5 1319.8L1378.5 1320.1L1382.5 1320.6L1388.5 1321.9L1394.7 1321.5L1398.7 1322.2L1401.7 1322.2L1406.6 1322.7L1410.6 1322.2L1416.7 1322.2L1422.7 1322.2L1428.5 1322.6L1432.6 1323.1L1437.5 1324.3L1442.1 1326.4L1447.6 1328.7L1450.5 1329.7L1453.0 1331.4L1455.2 1333.5L1459.5 1336.2L1462.1 1337.9L1466.4 1342.7L1468.8 1344.8L1472.4 1347.0L1474.7 1349.1L1478.5 1352.4L1481.7 1356.4L1484.6 1357.8L1487.6 1360.5L1489.5 1363.1L1492.9 1365.6L1497.5 1367.1L1501.0 1368.1L1503.9 1368.5L1506.8 1369.1L1512.1 1369.8L1517.7 1369.7L1523.4 1370.7L1526.1 1370.5L1531.6 1370.7L1535.5 1371.0L1538.4 1370.8L1544.4 1372.0L1550.7 1371.3L1556.0 1371.1L1561.5 1371.1L1567.9 1371.5L1572.4 1371.4L1577.1 1371.0L1582.8 1370.9L1588.7 1371.2L1591.7 1370.8L1597.8 1370.4L1600.8 1370.8L1606.0 1370.2L1610.1 1370.8L1614.3 1369.8L1619.5 1370.4L1623.6 1370.7L1626.7 1369.5L1632.9 1370.0L1638.0 1369.8L1641.0 1369.3L1645.0 1369.3L1648.0 1369.2L1654.2 1369.6L1657.2 1368.7L1661.4 1368.5L1667.5 1368.1L1671.7 1368.3L1674.8 1368.4L1678.9 1368.7L1682.0 1367.5L1686.1 1367.8L1689.1 1367.5L1693.1 1367.4L1699.1 1366.8L1702.0 1367.5L1707.7 1366.2L1710.6 1365.9L1713.4 1366.1L1716.1 1366.4L1719.2 1365.8L1725.6 1365.2L1731.9 1364.7L1738.1 1364.7L1742.2 1364.5L1746.0 1363.3L1751.0 1363.4L1754.8 1363.2L1759.5 1362.2L1765.1 1361.2L1770.2 1360.5L1774.6 1360.6L1780.0 1360.3L1785.2 1359.0L1790.3 1358.5L1794.3 1358.1L1799.9 1357.5L1805.1 1355.6L1808.3 1354.7L1813.3 1353.7L1815.9 1352.5L1818.5 1351.3L1824.1 1349.3L1826.6 1347.3L1831.1 1344.9L1837.1 1343.2L1842.6 1339.9L1847.9 1336.9L1850.5 1335.1L1854.0 1333.0L1858.5 1329.1L1861.0 1325.9L1863.7 1322.9L1867.3 1320.6L1869.7 1317.3L1871.8 1314.8L1873.4 1312.5L1876.0 1309.1L1879.0 1307.6L1882.5 1303.5L1885.3 1300.6L1888.3 1299.4L1891.7 1295.3L1894.9 1290.0L1899.0 1285.1L1902.5 1279.7L1903.3 1276.6L1905.7 1272.1L1907.9 1267.5L1910.1 1261.8L1911.9 1259.3L1912.6 1255.4L1914.8 1251.0L1915.3 1247.9L1916.4 1243.8L1918.9 1239.6L1919.0 1235.4L1921.0 1229.3L1920.6 1225.0L1921.2 1221.9L1921.7 1218.9L1923.3 1216.0L1924.4 1210.1L1925.2 1204.2L1925.6 1198.1L1925.3 1194.9L1926.1 1191.1L1928.1 1185.5L1928.2 1179.4L1929.0 1176.4L1929.5 1170.2L1930.4 1164.1L1931.0 1159.2L1930.2 1155.1L1931.5 1150.1L1931.5 1147.0L1932.2 1140.8L1931.6 1135.7L1932.8 1131.7L1933.3 1126.6L1933.2 1121.3L1933.4 1118.2L1933.0 1115.0L1934.7 1110.0L1935.0 1107.0L1934.4 1102.0L1935.3 1096.4L1935.0 1089.7L1936.7 1084.6L1936.0 1080.7L1936.9 1078.3L1938.6 1072.1L1938.8 1070.0"/>
<path class="crv" stroke="#00ff00" d="M475.0 1381.5L478.0 1381.5L483.0 1381.3L487.0 1381.9L490.0 1381.4L496.0 1381.9L499.0 1381.4L502.0 1381.8L506.0 1381.8L512.0 1382.0L518.0 1381.2L522.0 1381.1L526.0 1381.6L529.0 1381.8L535.0 1381.9L538.0 1382.0L542.0 1381.7L548.0 1381.9L553.0 1381.9L559.1 1381.2L562.2 1381.1L565.2 1381.8L568.3 1381.8L574.5 1381.0L578.7 1381.2L581.8 1381.7L584.8 1380.9L589.0 1381.6L593.0 1381.0L596.1 1380.7L599.1 1381.1L605.1 1381.0L609.0 1380.8L614.8 1380.5L617.7 1380.9L621.4 1380.3L624.1 1380.1L628.3 1380.6L631.5 1379.9L637.7 1380.6L641.7 1379.6L644.8 1380.1L647.7 1380.1L650.7 1380.0L655.5 1379.3L661.3 1378.8L664.2 1378.8L669.0 1378.0L672.0 1378.0L678.0 1377.5L681.1 1377.2L686.3 1376.4L689.5 1376.0L695.9 1375.7L700.1 1375.2L703.2 1374.6L707.2 1373.7L713.3 1373.2L717.9 1372.0L722.4 1371.2L727.1 1370.1L731.4 1369.3L735.6 1369.0L739.2 1366.9L742.1 1366.5L747.3 1364.5L750.2 1364.2L754.9 1361.5L760.7 1359.2L764.4 1357.6L768.5 1354.5L770.7 1352.4L774.0 1349.8L778.1 1345.0L780.7 1341.8L783.6 1337.8L786.2 1332.3L787.6 1329.5L789.3 1325.8L790.5 1323.0L792.7 1319.6L793.5 1315.6L795.9 1310.0L797.4 1304.0L799.7 1298.5L801.1 1293.7L802.0 1290.8L803.7 1284.9L804.8 1282.0L805.4 1276.9L807.1 1273.1L807.3 1269.9L809.1 1264.0L810.9 1258.1L811.4 1255.0L811.8 1252.0L812.8 1246.1L814.6 1240.2L815.0 1237.2L815.5 1234.2L816.6 1228.1L816.8 1225.1L818.0 1222.3L818.3 1218.3L819.2 1215.4L820.7 1209.4L821.4 1203.1L822.3 1200.0L822.9 1195.2L824.5 1189.5L825.8 1183.6L825.6 1179.5L827.0 1174.5L828.0 1168.5L828.9 1164.6L828.5 1161.4L829.0 1158.5L829.8 1155.6L830.4 1152.6L830.9 1148.7L831.3 1145.7L832.6 1140.8L832.5 1136.8L834.3 1132.0L834.8 1129.0L834.9 1123.0L836.1 1118.1L837.1 1113.2L837.8 1109.2L838.1 1104.2L839.2 1101.4L840.1 1096.4L841.2 1090.5L842.0 1085.6L841.6 1082.5L842.8 1076.5L843.9 1071.5L845.2 1066.6L845.7 1060.5L846.0 1057.6L847.2 1051.9L848.1 1045.8L848.6 1041.6L849.0 1038.6L849.6 1034.6L849.9 1031.6L851.1 1026.7L852.0 1022.9L851.8 1020.0L853.5 1014.1L853.8 1008.3L854.6 1003.5L856.0 997.2L857.0 992.6L857.1 989.9L857.3 987.1L857.5 983.2L858.8 980.3L858.5 975.0L859.3 970.8L859.8 967.6L860.7 961.3L861.2 955.0L861.9 950.9L862.4 946.0L862.9 940.7L864.2 934.5L864.8 930.3L865.0 927.2L865.4 924.1L866.9 918.2L866.8 915.1L867.6 911.2L868.6 905.4L868.8 901.3L869.9 897.2L870.7 892.1L871.0 889.1L871.2 884.1L872.3 880.2L872.7 877.2L873.3 872.0L874.6 868.2L874.9 864.2L875.3 858.2L876.7 855.3L877.1 850.2L877.5 847.2L879.0 841.3L879.8 835.4L880.4 831.5L881.5 827.4L882.0 824.3L882.9 819.2L884.1 813.2L884.7 809.3L885.4 806.5L886.2 801.9L886.7 797.5L888.5 793.3L889.7 788.0L891.0 784.2L893.0 778.7L896.7 773.9L899.4 770.7L902.4 769.8L906.5 772.3L909.6 774.6L913.1 779.6L914.8 782.9L915.9 785.7L918.9 791.5L920.5 797.7L921.2 801.3L922.2 804.1L923.6 810.0L924.8 815.0L925.7 820.2L926.4 824.4L928.1 830.4L928.8 833.2L929.4 836.2L930.0 839.1L931.0 844.1L931.4 848.2L932.3 854.2L933.3 859.2L934.8 864.0L935.3 868.1L936.3 871.1L937.1 875.2L937.9 879.4L938.6 885.6L939.4 888.6L939.8 894.6L941.2 898.2L941.5 902.1L942.9 908.0L943.3 911.8L944.6 916.6L946.6 922.7L947.3 926.9L948.2 931.5L948.9 937.5L950.2 940.5L950.5 945.8L951.7 950.0L952.8 955.3L952.9 958.5L954.6 964.4L955.8 968.2L955.7 971.1L957.3 976.3L958.1 979.4L958.7 982.5L959.1 986.6L961.3 992.3L962.0 995.2L962.4 998.2L963.4 1001.0L963.9 1004.0L964.7 1009.0L965.3 1013.0L966.4 1015.8L967.8 1020.6L968.3 1026.6L969.7 1030.4L970.4 1035.5L971.5 1041.4L972.3 1046.3L974.3 1052.0L974.7 1058.1L975.7 1061.1L977.1 1066.0L978.2 1072.0L978.2 1076.1L979.8 1082.0L980.9 1087.9L981.8 1090.9L983.1 1096.8L983.7 1099.8L985.0 1104.7L986.4 1108.5L987.5 1113.5L988.7 1119.4L990.6 1124.1L991.9 1127.9L992.9 1132.9L994.7 1137.6L995.1 1140.6L996.6 1145.4L998.1 1150.1L1000.3 1154.8L1000.9 1157.7L1003.4 1163.3L1005.2 1169.0L1006.4 1174.0L1008.8 1179.5L1010.6 1183.0L1011.3 1186.0L1012.9 1188.7L1015.0 1193.4L1016.4 1198.4L1019.0 1204.0L1020.6 1207.8L1022.8 1212.4L1024.9 1214.7L1026.7 1218.3L1029.2 1222.8L1030.9 1226.6L1033.3 1230.0L1035.5 1233.4L1038.3 1237.6L1041.6 1242.7L1044.9 1246.5L1047.1 1250.0L1049.6 1253.2L1054.0 1257.4L1058.1 1261.8L1059.7 1264.4L1064.3 1268.1L1068.5 1271.0L1072.2 1274.5L1075.8 1276.3L1078.5 1277.6L1080.9 1279.4L1085.8 1282.9L1089.4 1284.7L1092.1 1286.1L1096.6 1288.4L1101.3 1290.1L1104.0 1291.5L1107.7 1293.1L1111.3 1294.8L1114.3 1295.6L1117.8 1297.8L1120.8 1298.7L1124.7 1299.9L1130.7 1301.3L1135.4 1303.1L1141.4 1304.1L1145.2 1305.2L1149.2 1305.9L1154.3 1306.8L1157.4 1307.9L1162.2 1308.8L1165.1 1308.8L1171.0 1310.3L1175.2 1310.4L1180.4 1311.5L1185.7 1311.3L1190.8 1312.2L1195.0 1312.8L1199.1 1312.2L1205.3 1313.2L1211.6 1312.8L1214.7 1313.6L1218.8 1313.2L1223.9 1313.6L1229.8 1313.7L1233.5 1313.9L1237.8 1313.4L1241.0 1313.6L1244.0 1313.8L1248.0 1314.1L1252.8 1314.1L1255.6 1314.5L1260.6 1315.0L1265.9 1315.2L1268.9 1316.0L1271.8 1317.2L1276.6 1318.3L1281.4 1320.4L1285.6 1321.7L1288.2 1323.5L1292.6 1326.1L1296.6 1327.2L1300.3 1329.0L1306.3 1329.7L1311.5 1329.9L1317.9 1328.9L1322.0 1328.5L1327.2 1328.9L1333.1 1329.5L1337.0 1330.2L1343.0 1331.9L1347.5 1334.7L1351.8 1337.2L1354.0 1339.3L1357.5 1341.5L1361.3 1344.7L1365.3 1348.3L1369.6 1351.1L1373.4 1354.2L1376.3 1356.8L1381.7 1358.7L1386.8 1361.5L1392.1 1362.8L1396.6 1363.8L1399.9 1365.3L1404.0 1366.0L1406.6 1366.4L1411.9 1367.3L1417.6 1367.5L1420.5 1367.8L1424.6 1368.1L1430.9 1368.0L1434.1 1368.6L1440.8 1368.4L1446.5 1369.3L1452.5 1368.6L1457.7 1368.9L1460.4 1369.5L1463.1 1369.3L1465.9 1369.9L1470.7 1369.4L1473.5 1369.8L1477.5 1369.5L1480.4 1369.9L1486.5 1369.5L1491.6 1369.7L1494.7 1369.7L1501.0 1369.4L1507.3 1369.1L1511.5 1369.2L1517.9 1369.9L1524.2 1369.5L1527.3 1369.2L1533.6 1369.4L1537.8 1369.6L1542.9 1369.5L1547.0 1369.5L1552.0 1369.3L1555.0 1369.4L1558.1 1368.8L1563.1 1368.6L1567.2 1368.6L1572.3 1368.5L1577.5 1368.5L1581.6 1368.6L1584.7 1368.5L1590.9 1367.9L1595.0 1368.4L1599.1 1367.9L1604.2 1367.9L1609.3 1368.0L1613.3 1367.2L1617.3 1367.7L1620.3 1367.5L1624.3 1367.0L1630.2 1366.5L1633.1 1366.5L1636.0 1366.5L1640.7 1366.7L1646.3 1365.9L1651.1 1365.8L1654.3 1365.3L1659.7 1365.2L1662.9 1365.9L1666.1 1365.0L1670.3 1365.3L1673.4 1365.2L1679.6 1364.9L1684.6 1364.4L1687.7 1364.6L1693.6 1363.7L1698.5 1363.8L1701.4 1363.7L1704.3 1363.4L1707.1 1363.2L1709.9 1363.1L1714.5 1362.1L1717.3 1361.9L1721.1 1362.3L1724.4 1361.5L1728.7 1361.2L1733.9 1360.7L1737.0 1359.8L1741.1 1359.3L1747.0 1358.3L1750.1 1358.7L1755.8 1357.3L1758.6 1356.6L1761.4 1356.2L1764.2 1355.9L1769.1 1355.6L1775.6 1354.9L1778.8 1355.3L1781.8 1354.8L1784.9 1354.9L1788.8 1353.7L1792.6 1353.3L1796.4 1353.3L1800.1 1353.0L1803.3 1352.1L1806.1 1350.5L1809.1 1349.6L1814.1 1348.5L1818.5 1346.6L1824.3 1344.8L1829.3 1343.1L1832.0 1341.6L1835.0 1340.8L1840.1 1340.6L1845.1 1339.9L1849.0 1338.7L1854.7 1336.4L1859.2 1334.5L1862.9 1332.8L1865.0 1330.7L1867.7 1329.3L1870.7 1329.1L1876.7 1327.5L1882.2 1324.7L1886.2 1323.6L1888.8 1322.0L1892.0 1319.4L1894.0 1317.1L1897.5 1313.5L1899.4 1309.8L1900.7 1306.9L1902.7 1300.8L1904.1 1295.6L1904.8 1289.2L1905.3 1286.0"/>
<path class="crv" stroke="#ff00ff" d="M492.5 1366.0L495.5 1365.9L501.6 1365.5L504.7 1365.1L510.8 1365.3L514.9 1364.4L521.0 1364.3L525.1 1364.7L530.1 1363.5L534.2 1363.8L540.2 1363.2L545.1 1362.9L550.0 1362.6L554.1 1362.1L558.3 1362.1L564.4 1360.7L567.5 1360.5L571.7 1360.7L576.7 1359.8L580.7 1359.1L586.6 1358.4L589.6 1358.2L594.4 1357.7L598.2 1357.1L604.1 1355.6L607.3 1355.2L610.3 1354.7L613.2 1353.8L618.2 1353.4L621.9 1351.9L624.9 1351.6L628.8 1351.2L634.6 1350.0L640.4 1348.2L645.5 1347.2L649.7 1347.2L654.8 1346.0L658.8 1345.4L662.9 1344.8L668.7 1343.5L673.2 1342.0L676.1 1341.2L679.0 1340.0L683.9 1338.0L688.7 1336.1L692.3 1334.3L697.6 1331.7L701.0 1329.6L705.1 1326.5L709.5 1322.3L714.2 1318.7L717.9 1314.0L721.5 1310.3L725.2 1305.4L728.1 1299.9L731.8 1295.1L732.9 1292.3L734.0 1289.4L735.5 1286.8L738.6 1281.5L740.4 1275.6L743.1 1270.2L744.8 1264.3L746.9 1259.5L748.4 1253.5L749.8 1249.7L751.1 1244.8L752.3 1240.8L753.3 1234.7L754.9 1231.9L756.3 1226.0L757.2 1222.0L757.4 1218.8L759.0 1216.1L759.5 1211.0L761.0 1205.0L763.1 1199.1L764.1 1195.3L764.2 1191.2L765.4 1187.4L766.3 1184.5L767.6 1179.6L768.9 1173.6L769.8 1167.6L770.4 1163.6L771.4 1158.6L772.1 1155.6L773.9 1149.7L774.0 1145.5L775.8 1139.6L776.0 1136.6L777.1 1131.7L778.0 1127.8L778.8 1122.8L779.8 1117.8L780.6 1112.9L781.5 1107.9L782.5 1102.9L783.8 1096.8L784.1 1090.7L785.6 1085.9L786.6 1080.1L787.4 1075.9L788.2 1069.7L788.5 1066.7L788.9 1061.7L790.3 1056.9L790.9 1054.0L791.5 1048.8L792.3 1044.8L793.1 1039.9L793.9 1036.9L795.1 1034.1L795.6 1030.0L797.1 1024.0L797.2 1020.9L798.6 1016.1L799.1 1012.1L800.5 1007.5L800.4 1004.5L802.2 999.6L802.8 993.6L803.7 990.3L804.0 987.5L805.1 982.8L805.4 979.8L805.6 974.6L806.9 968.2L807.3 962.8L808.7 956.4L809.6 950.1L809.9 946.0L811.1 940.0L811.8 934.9L812.1 928.7L812.5 925.6L812.6 921.5L813.6 917.5L814.0 913.5L814.6 908.5L815.0 905.5L815.3 901.6L815.6 897.8L816.2 893.8L817.7 888.8L818.6 883.8L818.6 880.8L819.3 874.9L820.3 871.1L820.9 867.2L822.4 861.5L823.2 856.6L823.8 852.6L824.2 848.5L824.8 842.4L826.5 836.4L827.4 830.5L827.3 827.5L828.8 822.0L829.8 816.8L830.1 813.7L831.6 807.6L832.2 802.6L834.0 799.0L835.2 793.5L835.9 790.2L837.5 783.7L839.9 778.1L841.6 773.6L843.9 770.0L845.1 767.4L847.2 765.1L853.1 764.9L856.2 768.0L859.5 772.3L861.3 777.6L863.5 781.0L864.5 785.2L865.8 789.5L867.0 793.8L868.2 799.8L869.7 802.6L870.5 805.5L870.7 808.7L872.2 812.6L873.7 818.7L874.5 825.0L875.6 828.9L876.4 831.8L876.9 834.8L878.5 840.7L879.8 844.5L880.8 850.6L881.7 855.6L882.9 859.4L883.8 863.3L884.3 866.2L884.2 869.2L885.7 873.9L885.9 876.9L886.7 881.9L887.6 886.9L888.8 892.0L890.0 897.7L891.2 901.6L892.1 904.5L893.3 908.5L894.8 912.5L896.5 918.6L897.1 921.6L897.8 924.7L899.0 930.7L899.9 934.6L901.6 938.5L902.1 942.6L903.0 946.5L904.3 952.4L905.1 958.4L905.9 962.3L906.4 967.2L907.8 973.0L909.2 979.1L909.5 984.2L910.9 989.1L911.9 995.0L911.8 1000.1L912.8 1003.0L912.8 1006.1L914.0 1009.0L913.7 1012.2L915.3 1018.3L915.6 1024.5L916.7 1027.5L916.8 1032.5L918.2 1038.0L918.5 1042.3L919.7 1048.2L920.3 1052.0L921.0 1056.0L922.6 1061.8L923.3 1067.6L924.3 1073.5L924.9 1077.6L925.9 1081.5L927.4 1085.4L928.4 1091.4L929.0 1095.5L931.1 1101.4L932.0 1105.5L933.2 1109.5L934.2 1114.6L935.6 1118.4L937.0 1124.8L937.9 1127.9L939.1 1133.2L940.1 1136.2L941.3 1140.9L941.7 1143.6L944.0 1149.1L945.2 1151.7L945.9 1155.9L946.7 1158.3L947.4 1161.0L949.1 1165.7L950.1 1168.8L950.8 1171.9L952.6 1178.1L954.4 1183.9L956.2 1189.7L958.5 1195.4L960.4 1200.2L962.0 1203.9L963.5 1207.5L966.3 1213.2L969.0 1218.8L970.6 1221.4L973.1 1225.9L976.7 1230.7L979.2 1234.0L981.4 1237.3L983.3 1239.6L985.6 1241.5L989.2 1246.4L993.4 1249.3L996.5 1251.7L1001.1 1255.6L1004.5 1257.8L1007.5 1260.5L1012.6 1263.7L1015.4 1265.0L1019.8 1267.2L1023.4 1268.9L1027.0 1270.9L1030.9 1272.2L1036.2 1275.2L1041.1 1276.9L1046.7 1279.6L1051.7 1281.4L1056.6 1283.0L1059.5 1284.1L1064.4 1285.6L1070.3 1287.2L1073.3 1287.7L1077.1 1289.1L1081.8 1290.4L1084.3 1292.1L1090.1 1294.5L1092.7 1296.0L1096.5 1297.4L1102.0 1300.3L1104.8 1301.6L1108.3 1303.8L1111.4 1304.7L1114.2 1306.0L1119.1 1308.0L1122.0 1308.9L1125.9 1310.4L1131.4 1313.1L1135.3 1314.4L1139.2 1315.5L1143.1 1316.7L1147.7 1318.6L1151.4 1320.2L1155.3 1321.6L1158.4 1322.7L1162.1 1323.5L1167.8 1325.9L1170.9 1326.9L1174.8 1328.5L1179.9 1329.9L1185.1 1332.5L1189.1 1334.1L1195.1 1336.3L1200.2 1339.4L1202.7 1341.2L1205.1 1343.1L1207.0 1345.5L1211.1 1348.6L1214.9 1351.8L1219.2 1354.5L1223.9 1356.8L1227.6 1358.1L1230.3 1358.9L1236.1 1360.1L1242.4 1361.4L1246.0 1361.2L1249.3 1361.9L1254.6 1362.6L1258.5 1362.6L1263.4 1363.7L1266.5 1363.7L1269.6 1364.2L1272.9 1363.9L1279.2 1364.8L1284.6 1365.4L1289.9 1365.4L1294.0 1365.8L1299.0 1366.1L1304.0 1366.8L1309.0 1367.1L1312.0 1367.5L1318.0 1367.4L1324.0 1367.8L1329.0 1367.9L1333.0 1368.7L1339.0 1368.9L1344.0 1368.9L1349.0 1368.8L1353.0 1369.4L1357.0 1368.9L1361.0 1369.5L1365.0 1369.1L1370.0 1369.4L1376.0 1369.9L1381.0 1370.0L1386.0 1369.3L1391.0 1370.1L1394.0 1370.0L1398.0 1369.8L1402.0 1369.9L1407.0 1369.9L1412.1 1369.5L1418.1 1370.1L1423.1 1369.9L1426.2 1369.8L1432.2 1370.0L1438.1 1370.4L1443.1 1369.8L1449.0 1370.4L1453.1 1369.9L1458.0 1370.2L1461.0 1369.9L1463.9 1369.7L1468.8 1370.0L1472.7 1370.1L1476.7 1370.3L1479.7 1370.1L1484.7 1370.2L1489.9 1370.1L1492.9 1369.7L1495.8 1369.8L1501.6 1369.6L1504.5 1370.0L1510.4 1369.9L1513.3 1370.2L1518.3 1369.8L1521.3 1369.4L1526.4 1370.1L1531.5 1369.2L1535.6 1369.2L1538.6 1369.4L1544.8 1369.3L1547.9 1368.7L1552.0 1369.3L1556.8 1368.6L1562.8 1368.2L1567.9 1368.0L1573.0 1367.7L1576.1 1367.8L1579.2 1367.5L1582.2 1366.6L1587.4 1366.4L1590.5 1366.4L1593.5 1366.4L1598.6 1365.9L1602.5 1365.2L1606.5 1365.4L1611.3 1364.4L1615.2 1364.9L1621.2 1364.2L1625.4 1364.0L1630.5 1363.9L1634.5 1363.5L1640.5 1363.0L1643.4 1363.1L1646.4 1362.8L1649.3 1362.7L1655.1 1362.1L1659.1 1362.0L1663.0 1362.3L1666.0 1361.7L1671.1 1362.2L1674.1 1361.6L1679.4 1361.4L1684.7 1361.2L1691.0 1360.7L1694.1 1361.0L1697.2 1360.8L1702.3 1361.1L1705.2 1360.2L1710.9 1360.2L1714.4 1359.9L1720.4 1359.4L1725.6 1359.0L1728.6 1359.1L1731.5 1359.1L1736.2 1357.8L1741.0 1357.2L1744.0 1357.1L1749.0 1356.8L1754.0 1356.2L1760.1 1355.8L1766.0 1354.8L1772.2 1354.0L1775.3 1353.5L1779.4 1352.3L1783.5 1351.6L1788.4 1351.1L1793.1 1349.7L1796.2 1349.0L1800.0 1348.0L1804.9 1347.1L1809.8 1345.8L1815.9 1345.7L1819.0 1344.7L1823.1 1344.1L1826.2 1343.6L1829.1 1343.0L1832.1 1342.0L1834.5 1339.7L1838.4 1337.8L1843.6 1334.0L1847.1 1330.3L1849.8 1328.6L1853.2 1325.6L1855.6 1323.7L1859.8 1319.4L1862.0 1317.0"/>
<path class="crv" stroke="#00ffff" d="M486.2 1363.0L489.3 1362.8L495.4 1362.6L499.5 1362.1L505.7 1362.4L509.8 1361.7L515.0 1361.5L518.1 1361.9L524.3 1362.0L528.3 1361.5L531.3 1360.8L535.4 1361.4L538.4 1361.1L543.3 1360.5L547.1 1360.3L552.1 1359.8L555.3 1359.5L560.5 1358.9L563.7 1358.9L568.8 1358.4L573.8 1357.0L576.8 1357.0L581.8 1356.3L584.8 1356.4L587.6 1355.4L590.6 1355.2L596.3 1354.3L600.0 1354.0L605.2 1352.7L610.4 1351.8L616.6 1351.1L619.5 1349.9L622.5 1349.1L628.4 1348.7L632.1 1347.7L635.7 1346.6L639.7 1346.2L643.7 1344.6L649.5 1342.7L655.4 1341.8L657.9 1340.2L662.7 1339.2L665.3 1337.3L671.3 1335.4L673.6 1333.2L677.3 1331.5L681.4 1328.8L686.3 1326.8L691.0 1322.6L693.5 1320.8L696.4 1317.9L700.1 1314.5L703.6 1309.5L707.6 1304.6L709.8 1301.1L711.6 1297.3L714.1 1292.7L715.6 1288.8L717.1 1284.9L718.6 1281.0L720.9 1275.2L721.4 1272.1L722.0 1269.0L723.6 1264.0L725.3 1258.0L726.7 1252.3L728.1 1248.5L728.0 1245.4L729.6 1239.5L730.0 1236.5L731.3 1232.7L731.4 1229.6L732.6 1223.6L733.1 1220.6L734.4 1215.6L734.8 1211.4L736.3 1207.6L737.0 1202.5L737.6 1198.4L738.1 1195.3L739.2 1190.2L739.1 1187.0L740.2 1184.0L741.0 1179.1L741.4 1176.1L743.1 1171.3L744.0 1167.3L744.7 1162.2L746.4 1156.1L747.6 1150.2L748.1 1147.3L748.4 1144.2L749.2 1138.2L750.0 1135.2L750.0 1132.0L751.4 1129.2L752.2 1123.0L753.5 1117.1L754.0 1111.0L754.7 1108.0L755.0 1105.0L755.7 1102.0L756.9 1098.1L757.0 1095.0L757.8 1089.0L758.4 1086.0L759.5 1082.0L760.0 1077.9L761.0 1072.8L761.9 1066.6L762.4 1062.5L763.2 1057.5L764.9 1051.9L765.8 1047.9L766.6 1041.2L767.8 1035.8L769.1 1031.9L770.1 1029.2L771.6 1025.1L772.5 1021.7L775.3 1017.5L780.0 1013.6L784.4 1018.1L787.3 1022.6L788.6 1025.5L789.4 1028.9L790.9 1033.2L792.0 1037.7L792.7 1040.6L794.2 1046.8L794.6 1050.0L796.2 1055.3L796.5 1059.5L797.6 1062.5L798.2 1067.5L799.8 1071.3L801.1 1077.3L801.2 1080.4L802.5 1083.2L803.0 1088.3L804.4 1092.1L805.7 1095.9L807.2 1101.8L808.8 1107.7L809.5 1110.6L810.9 1115.5L812.4 1119.2L813.2 1122.1L814.2 1128.1L816.2 1133.0L817.9 1137.8L818.8 1140.7L820.0 1143.6L821.1 1148.6L822.8 1153.4L824.1 1156.2L824.8 1159.2L826.1 1162.0L827.2 1166.9L828.8 1170.7L830.6 1176.5L833.3 1182.0L834.4 1184.9L837.3 1190.5L839.4 1195.3L841.6 1198.8L844.2 1203.2L846.7 1208.9L849.3 1212.1L850.8 1216.0L853.9 1220.0L856.3 1223.3L858.1 1225.8L862.4 1230.2L864.0 1232.8L868.3 1237.3L870.5 1239.5L873.8 1242.0L878.1 1246.5L882.9 1250.4L887.6 1254.5L891.8 1257.6L896.7 1261.2L899.5 1262.7L901.7 1265.1L905.3 1267.2L908.3 1268.2L911.7 1270.4L916.0 1272.8L920.7 1275.0L926.4 1277.2L928.8 1279.0L933.4 1280.6L939.2 1281.6L944.8 1284.0L948.5 1284.9L952.2 1286.0L956.1 1287.0L960.9 1289.4L966.1 1290.8L970.1 1291.9L973.8 1293.9L977.6 1295.4L981.5 1296.7L986.5 1298.3L992.1 1301.1L997.8 1303.4L1001.7 1304.9L1004.5 1306.1L1008.8 1309.2L1013.8 1310.9L1018.2 1313.6L1021.8 1315.7L1027.6 1317.9L1030.1 1319.8L1035.9 1322.0L1039.6 1323.8L1043.1 1326.1L1047.7 1328.2L1050.6 1329.0L1054.1 1330.8L1059.9 1332.0L1062.7 1333.2L1068.8 1335.3L1073.5 1336.6L1078.0 1337.4L1080.5 1338.9L1084.4 1339.4L1089.2 1340.9L1095.3 1342.4L1099.6 1342.5L1102.6 1343.3L1105.7 1344.4L1111.9 1345.4L1116.0 1346.1L1120.9 1347.3L1126.0 1347.6L1128.9 1348.6L1132.9 1349.3L1139.0 1349.4L1143.9 1350.9L1148.9 1351.4L1153.0 1351.5L1157.0 1351.7L1162.0 1352.5L1165.0 1352.6L1169.9 1354.1L1173.0 1353.7L1178.1 1354.4L1184.2 1355.3L1187.3 1355.4L1193.4 1356.3L1196.4 1356.8L1199.5 1356.4L1202.5 1357.3L1207.5 1357.5L1210.5 1358.1L1216.3 1357.9L1221.0 1358.5L1226.3 1359.2L1232.2 1360.1L1235.2 1360.0L1238.1 1360.2L1241.0 1360.2L1244.9 1360.4L1248.8 1361.2L1252.0 1360.9L1258.5 1361.2L1263.9 1361.5L1268.6 1361.6L1274.3 1361.8L1279.2 1361.9L1284.2 1361.3L1288.3 1361.9L1292.4 1361.8L1298.7 1361.4L1304.0 1362.1L1307.2 1362.0L1312.5 1361.5L1316.8 1361.9L1322.8 1361.8L1326.6 1361.6L1329.5 1362.5L1335.2 1361.8L1339.1 1362.3L1342.1 1361.8L1348.0 1362.2L1352.0 1362.7L1357.0 1362.4L1360.0 1362.3L1364.0 1362.6L1370.1 1362.6L1376.3 1362.4L1380.4 1363.0L1384.5 1362.3L1387.6 1362.5L1392.8 1362.8L1397.9 1362.3L1401.9 1362.6L1405.9 1362.2L1409.9 1362.4L1413.9 1362.8L1417.0 1362.5L1420.1 1362.1L1426.3 1361.8L1429.5 1361.8L1434.7 1361.7L1437.9 1362.5L1442.1 1362.1L1447.3 1361.9L1452.5 1361.5L1457.7 1361.7L1461.8 1362.0L1464.8 1361.9L1470.8 1361.8L1474.7 1361.3L1479.5 1361.2L1483.2 1361.1L1487.7 1360.9L1491.1 1360.9L1496.5 1361.0L1503.0 1361.1L1506.1 1360.7L1512.1 1360.6L1518.0 1360.6L1523.7 1360.0L1526.5 1359.6L1530.3 1360.3L1533.2 1360.0L1539.0 1359.8L1544.0 1359.2L1548.0 1359.0L1553.0 1358.9L1556.0 1358.7L1562.0 1358.6L1567.0 1358.3L1572.0 1358.0L1576.0 1357.7L1580.0 1357.2L1585.0 1356.9L1591.0 1357.1L1595.0 1357.1L1600.1 1356.9L1604.2 1356.8L1608.2 1356.0L1614.4 1356.5L1619.5 1356.2L1623.5 1355.7L1627.5 1355.6L1630.5 1355.5L1636.3 1354.5L1641.1 1354.9L1644.1 1354.1L1649.4 1354.0L1654.4 1352.7L1658.3 1352.1L1664.3 1351.4L1668.2 1351.1L1673.1 1350.7L1679.0 1349.5L1684.1 1349.2L1690.2 1348.3L1693.3 1348.1L1696.4 1347.5L1701.6 1348.1L1712.5 1347.0L1725.1 1346.0L1730.4 1343.8L1735.6 1344.2L1743.4 1347.2L1748.3 1350.1L1754.2 1345.8L1763.4 1341.6L1773.6 1338.6L1785.1 1339.2L1794.2 1340.1L1799.2 1337.9L1805.1 1336.4L1812.2 1336.4L1819.3 1334.9L1829.8 1328.1L1841.9 1324.1L1845.3 1319.6L1851.4 1314.7L1855.5 1313.0"/>
<path class="crv" stroke="#8f00ff" d="M522.5 1317.0L525.2 1315.5L529.5 1312.7L532.6 1311.9L537.6 1308.4L543.2 1305.7L546.6 1303.5L550.2 1301.6L554.0 1298.2L557.3 1295.8L560.6 1293.4L565.0 1290.8L567.1 1288.5L569.9 1287.2L572.5 1284.1L577.6 1280.8L579.7 1278.5L582.6 1275.7L585.7 1273.2L587.6 1270.8L589.6 1268.5L593.8 1264.2L597.5 1259.4L601.3 1254.5L603.4 1252.2L605.8 1247.6L609.0 1243.6L612.1 1238.4L613.4 1235.6L616.2 1231.1L618.0 1227.4L620.9 1222.0L622.5 1219.4L625.1 1213.9L627.5 1210.5L628.7 1207.6L629.9 1203.7L631.9 1198.9L634.2 1194.4L635.4 1191.6L637.1 1186.8L639.1 1182.3L641.1 1176.6L642.7 1172.9L644.1 1168.0L646.0 1164.5L646.9 1161.6L647.7 1156.6L648.8 1153.7L650.0 1149.9L651.7 1145.1L651.9 1140.9L653.9 1136.1L655.0 1131.1L656.1 1127.2L657.2 1121.0L658.2 1116.1L660.1 1110.4L660.6 1106.3L661.1 1103.3L662.8 1097.5L663.7 1093.5L664.2 1088.5L665.4 1085.7L666.1 1081.7L667.0 1076.8L667.6 1072.8L669.5 1067.1L670.3 1062.1L671.2 1056.1L672.2 1053.2L672.7 1049.2L674.1 1044.4L674.9 1038.5L675.6 1035.5L676.6 1031.4L677.2 1028.3L678.1 1022.1L679.5 1016.2L680.0 1011.3L681.8 1006.4L682.9 1000.5L683.2 997.2L684.7 991.8L685.1 989.0L685.7 983.9L686.7 978.7L687.8 975.6L688.9 970.3L689.8 964.1L690.3 961.2L692.0 955.3L693.0 952.2L694.2 947.0L695.4 942.0L696.5 938.3L698.3 934.2L700.2 930.4L702.1 925.5L704.4 922.6L708.4 919.2L714.3 918.8L718.1 920.8L720.7 923.3L723.7 926.2L726.4 931.5L728.7 937.8L730.0 941.0L731.7 945.4L732.6 948.1L733.8 954.1L735.8 958.9L737.4 964.9L738.5 968.7L739.2 971.6L740.8 976.4L742.1 981.3L743.8 986.2L744.8 991.2L746.6 997.0L748.0 1002.0L749.4 1008.0L750.7 1014.0L752.3 1017.9L752.7 1022.1L753.3 1025.1L754.2 1028.1L755.3 1033.1L756.7 1038.0L757.9 1043.1L758.9 1047.1L759.9 1050.0L761.1 1052.9L762.0 1056.9L762.7 1060.9L763.8 1065.8L765.1 1069.6L766.1 1072.5L767.2 1075.3L768.8 1081.1L771.0 1086.8L771.4 1089.9L773.4 1095.7L775.0 1100.6L776.6 1106.5L777.8 1109.4L780.1 1113.9L781.1 1117.9L782.8 1122.8L785.2 1128.6L787.0 1133.4L789.0 1137.0L790.8 1140.6L791.4 1143.6L792.6 1146.4L794.6 1148.9L795.5 1151.8L798.2 1157.2L800.9 1162.5L803.9 1167.8L806.4 1172.3L810.2 1177.2L812.3 1181.9L815.9 1185.6L817.1 1188.4L819.8 1191.4L822.1 1193.5L823.8 1195.9L827.0 1199.8L830.8 1203.1L834.9 1207.5L839.7 1211.2L843.7 1214.2L847.6 1217.4L850.6 1220.0L855.8 1223.0L860.3 1225.2L863.1 1226.5L868.5 1229.7L871.5 1232.1L875.8 1234.5L880.0 1237.2L884.1 1240.3L889.7 1243.0L894.5 1246.9L899.0 1249.4L903.3 1252.3L907.2 1254.1L911.3 1257.4L916.9 1260.0L920.7 1263.1L923.1 1265.0L925.7 1266.8L929.1 1269.0L931.6 1270.6L934.7 1273.0L938.2 1275.0L941.5 1277.4L945.2 1280.9L948.5 1283.6L953.2 1287.8L957.2 1290.8L961.8 1294.3L966.6 1297.6L970.9 1300.7L974.1 1302.1L978.9 1305.1L983.5 1307.5L988.3 1309.8L990.9 1311.9L996.0 1313.9L1000.1 1316.4L1003.8 1317.9L1009.4 1320.4L1013.3 1321.8L1018.9 1324.8L1023.0 1325.7L1025.8 1327.3L1029.8 1328.4L1032.5 1329.9L1038.3 1331.5L1043.1 1332.9L1047.1 1333.5L1050.9 1334.5L1055.7 1336.1L1060.7 1336.9L1064.7 1337.9L1067.8 1338.4L1072.9 1338.7L1078.6 1339.9L1082.4 1341.5L1085.5 1341.6L1088.4 1342.6L1094.5 1343.2L1100.7 1344.1L1106.8 1345.5L1112.9 1346.4L1118.0 1347.0L1122.0 1347.2L1125.0 1348.0L1129.9 1348.9L1134.0 1348.6L1139.0 1349.4L1145.0 1349.6L1148.0 1350.1L1153.0 1350.2L1158.0 1349.9L1161.0 1350.8L1164.0 1351.1L1168.0 1350.6L1172.0 1351.0L1176.0 1351.4L1181.0 1352.6L1185.0 1352.9L1188.0 1353.1L1193.0 1353.5L1199.0 1354.3L1203.0 1354.9L1206.0 1354.7L1212.0 1355.2L1215.0 1356.1L1220.0 1356.0L1223.0 1356.5L1228.0 1356.7L1233.0 1356.7L1238.0 1357.4L1241.0 1357.4L1246.0 1357.5L1249.0 1358.3L1253.0 1358.5L1257.0 1358.6L1260.0 1358.8L1263.0 1358.6L1269.0 1359.1L1274.0 1359.3L1277.0 1358.8L1282.0 1358.8L1285.0 1359.1L1290.0 1359.1L1296.0 1359.3L1300.0 1359.0L1303.0 1359.1L1309.0 1359.2L1313.0 1358.8L1319.0 1358.8L1325.0 1358.9L1329.0 1359.0L1333.0 1358.7L1337.0 1358.6L1343.0 1358.9L1346.0 1358.2L1352.0 1358.1L1357.0 1358.4L1362.0 1358.1L1368.0 1358.1L1374.0 1358.1L1378.0 1357.6L1382.0 1357.9L1386.0 1357.3L1390.0 1357.8L1394.0 1357.1L1400.0 1357.6L1406.0 1357.5L1410.0 1356.9L1413.0 1357.5L1419.0 1357.1L1423.0 1356.7L1429.2 1357.1L1433.5 1357.2L1437.7 1356.8L1443.1 1356.5L1449.4 1356.4L1454.6 1357.0L1457.6 1356.5L1460.5 1356.5L1464.2 1356.9L1469.4 1356.5L1473.3 1356.3L1476.3 1355.6L1479.9 1355.7L1483.4 1355.2L1486.3 1355.4L1492.0 1354.6L1494.9 1355.2L1497.2 1355.0L1499.7 1354.2L1502.2 1354.0L1506.8 1353.9L1511.6 1353.5L1515.6 1353.6L1518.7 1353.8L1525.0 1353.4L1531.5 1352.6L1537.0 1352.8L1540.3 1351.9L1545.8 1351.7L1551.3 1352.1L1556.7 1351.7L1562.9 1351.1L1566.0 1350.7L1572.0 1350.4L1576.1 1350.7L1582.2 1350.7L1588.4 1350.8L1594.6 1350.6L1597.7 1350.8L1601.9 1350.5L1606.0 1350.5L1612.1 1350.1L1617.1 1350.6L1621.1 1349.6L1625.1 1349.8L1630.9 1349.8L1634.7 1349.9L1637.4 1349.3L1640.2 1349.6L1651.5 1346.4L1664.0 1345.6L1670.0 1344.8L1679.5 1342.3L1689.2 1342.2L1698.4 1340.0L1710.2 1337.8L1715.7 1339.0L1723.3 1336.4L1728.0 1338.3L1735.1 1334.6L1744.9 1336.5L1750.9 1336.3L1757.6 1338.9L1764.0 1336.4L1769.8 1339.6L1779.9 1339.6L1787.0 1337.3L1794.0 1339.2L1804.1 1338.0L1811.0 1338.9L1815.0 1338.0"/>
<path class="crv" stroke="#8f00ff" d="M522.5 1317.0L525.2 1315.5L529.7 1313.2L535.2 1310.3L538.6 1308.0L543.7 1304.7L547.5 1303.1L552.4 1299.4L555.7 1297.1L559.3 1295.1L563.3 1291.8L568.0 1288.0L570.2 1286.0L573.4 1283.6L575.8 1281.9L577.8 1279.5L580.9 1276.9L585.7 1273.2L589.0 1269.4L593.2 1265.0L595.5 1261.6L599.1 1256.8L601.0 1254.3L604.0 1250.1L606.5 1246.8L608.8 1243.4L611.1 1240.1L613.8 1235.8L615.3 1233.0L617.5 1228.3L620.5 1222.9L622.5 1219.4L624.1 1216.8L625.6 1214.1L627.5 1209.3L630.1 1203.7L632.0 1200.1L632.7 1197.1L634.8 1193.5L636.9 1187.8L637.8 1185.0L640.3 1179.5L641.6 1175.7L643.6 1170.0L644.6 1167.2L646.5 1162.5L647.5 1159.7L648.4 1154.7L649.4 1151.8L651.0 1146.0L652.5 1141.1L653.9 1136.1L654.5 1133.1L655.6 1129.2L656.9 1124.2L657.9 1118.1L659.5 1112.3L661.0 1106.4L662.3 1100.5L663.0 1094.4L664.2 1089.5L665.6 1084.7L666.4 1080.7L667.3 1074.8L668.1 1069.8L669.4 1064.0L670.7 1059.1L671.2 1054.0L672.1 1050.1L673.6 1046.3L674.6 1041.4L675.1 1037.5L676.4 1031.3L677.6 1025.1L678.3 1019.0L679.5 1013.3L681.3 1007.3L681.7 1004.4L682.7 1000.5L683.9 997.3L683.8 994.3L684.6 989.8L685.9 986.1L686.3 980.8L687.6 975.6L688.3 970.2L689.8 966.2L690.9 961.3L691.1 958.5L691.9 954.2L693.5 950.1L694.9 946.1L696.0 940.2L696.9 937.5L699.1 933.6L701.7 927.5L702.8 924.8L706.5 920.4L712.5 918.5L715.1 919.4L719.8 922.5L723.7 926.1L725.3 928.6L726.4 931.6L728.3 935.5L729.5 940.0L731.4 944.5L732.3 948.2L733.3 951.0L734.0 954.0L735.7 960.0L737.1 963.9L737.9 966.9L739.1 971.7L740.8 977.5L742.3 982.3L743.9 987.2L745.2 991.1L746.4 997.0L747.4 1000.0L748.2 1003.0L749.3 1008.0L750.6 1014.1L752.5 1020.0L753.6 1022.9L753.6 1026.1L754.6 1029.0L756.1 1033.9L757.4 1040.0L758.6 1046.1L760.1 1050.0L761.1 1055.0L763.3 1060.7L764.1 1063.6L765.1 1067.5L766.0 1072.5L768.3 1078.1L769.6 1083.0L770.3 1086.0L772.0 1090.8L774.1 1096.6L775.7 1102.5L778.0 1108.2L778.9 1112.2L781.3 1117.8L782.5 1120.7L784.4 1125.6L785.0 1128.7L786.6 1132.5L788.6 1137.2L790.4 1140.7L792.6 1145.3L794.6 1148.9L796.7 1154.6L799.6 1159.8L802.4 1163.9L803.7 1167.9L805.8 1171.5L807.7 1173.9L810.0 1178.5L812.1 1180.8L813.8 1183.3L815.3 1186.1L817.3 1188.3L819.3 1190.5L821.3 1192.8L823.5 1196.2L827.5 1199.3L830.0 1202.5L833.3 1206.3L836.7 1208.5L840.5 1211.9L842.6 1214.0L846.0 1216.2L848.9 1219.0L854.0 1222.1L857.6 1223.9L861.0 1226.1L865.7 1228.4L868.4 1229.9L870.6 1231.7L874.2 1233.4L876.7 1234.9L881.6 1238.5L884.0 1240.4L889.5 1243.3L894.0 1245.8L897.2 1248.3L900.8 1250.4L903.6 1251.8L908.0 1254.7L913.3 1258.1L917.5 1260.9L920.6 1263.2L923.1 1265.0L926.9 1266.9L930.9 1269.8L933.2 1271.7L935.5 1273.7L940.7 1276.8L943.0 1278.8L945.9 1281.8L949.2 1284.5L954.2 1288.3L958.7 1291.8L963.3 1295.7L966.5 1297.7L968.9 1299.6L971.6 1301.1L975.0 1302.4L979.8 1305.6L983.6 1307.2L986.2 1309.0L991.9 1312.3L996.8 1314.4L1000.4 1315.7L1004.8 1318.0L1007.4 1319.7L1013.3 1321.9L1019.0 1324.6L1024.0 1326.2L1027.9 1327.6L1032.7 1329.3L1037.3 1331.5L1042.1 1332.9L1045.0 1333.4L1050.8 1334.9L1054.7 1335.5L1058.6 1336.6L1061.6 1337.3L1067.9 1338.0L1073.9 1339.0L1078.6 1340.0L1081.5 1340.9L1084.5 1341.0L1088.4 1342.2L1092.5 1342.8L1095.5 1343.8L1100.6 1344.8L1104.8 1344.9L1110.8 1346.2L1116.0 1346.7L1119.0 1346.9L1123.0 1347.5L1127.0 1347.9L1130.0 1348.7L1132.9 1349.1L1136.0 1348.5L1139.0 1349.2L1143.0 1349.5L1149.0 1349.4L1153.0 1350.1L1158.0 1350.4L1163.0 1351.0L1168.0 1351.3L1171.0 1351.0L1174.0 1351.5L1180.0 1351.8L1183.0 1352.7L1186.0 1352.3L1189.0 1353.3L1194.0 1353.6L1198.0 1353.9L1201.0 1354.8L1207.0 1355.1L1210.0 1355.6L1213.0 1355.2L1217.0 1355.9L1223.0 1356.6L1229.0 1356.5L1235.0 1357.3L1241.0 1357.3L1247.0 1357.8L1252.0 1358.3L1256.0 1358.6L1260.0 1358.6L1263.0 1358.4L1268.0 1358.3L1271.0 1358.9L1274.0 1358.7L1279.0 1359.0L1284.0 1359.3L1288.0 1359.1L1292.0 1359.1L1297.0 1359.3L1303.0 1358.5L1308.0 1358.9L1313.0 1359.1L1318.0 1358.8L1323.0 1358.5L1329.0 1359.0L1333.0 1358.3L1338.0 1358.9L1342.0 1358.6L1346.0 1358.8L1350.0 1358.4L1353.0 1358.3L1357.0 1358.0L1360.0 1357.8L1363.0 1358.1L1368.0 1358.5L1373.0 1357.7L1376.0 1357.7L1380.0 1358.1L1386.0 1357.8L1391.0 1357.3L1396.0 1357.3L1402.0 1357.2L1408.0 1357.3L1412.0 1356.7L1417.0 1356.8L1421.0 1357.0L1426.1 1357.1L1429.2 1356.8L1435.6 1356.8L1438.8 1357.2L1444.2 1356.6L1450.5 1356.9L1454.6 1357.0L1459.5 1356.8L1464.2 1356.7L1469.4 1356.4L1474.4 1356.5L1477.3 1355.9L1480.8 1355.4L1483.5 1355.9L1488.4 1354.8L1492.7 1355.0L1496.5 1355.0L1500.5 1354.5L1503.1 1354.2L1505.8 1353.8L1509.6 1354.0L1515.6 1353.4L1519.7 1353.6L1526.1 1353.0L1530.4 1352.9L1533.7 1352.6L1540.3 1352.4L1544.7 1351.8L1548.0 1351.9L1552.3 1351.6L1558.8 1351.3L1564.0 1350.8L1567.0 1350.7L1573.0 1350.7L1578.1 1350.8L1583.3 1350.4L1589.5 1350.6L1593.6 1350.4L1599.8 1350.4L1606.0 1350.4L1611.1 1350.6L1615.1 1350.0L1621.1 1350.2L1627.0 1349.5L1632.8 1349.3L1638.4 1349.6L1643.2 1349.6L1651.8 1348.4L1656.8 1346.3L1668.1 1345.8L1679.5 1342.2L1688.4 1343.3L1694.4 1343.3L1699.8 1341.8L1711.3 1337.9L1722.4 1336.8L1726.9 1336.0L1737.1 1336.0L1748.0 1336.7L1756.8 1337.4L1766.9 1339.4L1771.9 1337.5L1778.9 1338.4L1789.0 1337.6L1798.0 1336.8L1804.1 1339.8L1815.0 1338.0"/>
<path class="crv" style="stroke-width:12" stroke="#0000ff" d="M941.4 399.4L942.1 393.3L943.5 383.3L945.4 378.5L944.0 371.9L947.8 361.4L948.3 350.0L948.5 341.1L949.8 332.7L953.2 322.2L954.3 312.9L954.9 308.3L957.4 303.8L956.8 301.3"/>
<path class="crv" style="stroke-width:12" stroke="#0000ff" d="M963.8 300.9L964.7 310.1L963.9 316.1L964.5 322.4L967.6 332.9L966.7 338.6L968.1 344.5L968.8 351.7L968.8 357.0L970.5 365.2L972.2 371.9L972.3 377.8L972.5 389.2L974.4 396.4L974.5 399.5"/>
<path class="crv" style="stroke-width:13.5" stroke="#0000ff" d="M945.2 364.6L946.1 354.1L949.2 344.0L949.8 333.6L952.2 324.4L953.9 315.9L953.1 311.0L954.3 309.2"/>
<path class="crv" style="stroke-width:13.5" stroke="#0000ff" d="M965.3 309.2L964.7 316.1L964.7 323.5L966.6 332.9L967.8 340.6L968.5 345.5L969.3 354.8L969.9 362.5L971.0 364.3"/>
<path class="crv" style="stroke-width:15" stroke="#0000ff" d="M949.8 332.7L950.5 323.3L952.3 319.0"/>
<path class="crv" style="stroke-width:15" stroke="#0000ff" d="M964.2 319.2L967.0 325.7L966.7 331.9"/>
<path class="crv" stroke="#0000ff" d="M468.8 1380.0L471.8 1379.7L475.8 1380.2L479.8 1380.5L483.8 1379.7L487.9 1380.4L490.9 1380.1L493.9 1380.8L498.0 1379.7L503.0 1380.7L509.1 1380.9L514.1 1380.2L518.1 1380.4L524.2 1380.7L530.2 1380.7L533.2 1380.3L538.1 1380.7L542.1 1380.4L548.0 1380.5L553.1 1380.1L558.2 1380.2L564.4 1380.1L569.6 1380.3L573.7 1380.4L577.9 1380.4L582.0 1380.5L586.1 1379.7L592.2 1380.0L598.3 1380.6L601.2 1379.7L607.2 1380.3L612.9 1380.0L616.7 1380.0L621.4 1380.1L626.1 1379.1L631.5 1379.3L635.7 1379.7L639.7 1379.3L643.8 1379.4L646.7 1378.9L649.7 1378.5L654.5 1378.1L658.4 1377.9L661.3 1378.7L665.1 1377.5L668.1 1378.4L673.0 1377.8L676.0 1377.0L681.0 1376.7L686.2 1377.3L689.2 1377.2L694.4 1376.8L697.4 1375.6L702.5 1375.4L708.5 1375.0L712.5 1374.8L715.5 1374.6L719.4 1374.7L724.1 1373.8L728.1 1373.1L732.3 1372.7L736.5 1372.4L742.6 1371.0L747.6 1370.5L752.4 1369.6L755.1 1368.7L758.0 1368.7L760.8 1368.1L765.6 1366.3L772.0 1365.4L777.5 1362.7L782.2 1361.2L785.6 1359.2L788.3 1357.9L792.0 1356.0L796.7 1353.7L800.5 1350.3L803.9 1347.8L808.8 1344.2L813.0 1339.6L816.8 1336.0L819.0 1333.8L822.2 1331.1L824.8 1327.9L826.3 1324.0L829.0 1319.7L832.4 1315.7L833.6 1311.6L836.1 1308.3L837.6 1304.5L839.7 1298.7L842.4 1293.0L842.9 1289.8L845.2 1286.2L846.3 1281.2L847.3 1276.2L848.8 1271.3L849.8 1266.3L850.7 1263.3L851.4 1260.4L854.8 1255.9L856.5 1245.8L855.1 1234.0L860.4 1225.6L857.0 1220.0L859.8 1211.2L861.6 1200.0L861.3 1190.8L863.8 1184.0L864.9 1179.2L864.9 1170.0L869.5 1162.4L870.6 1154.4L869.1 1144.1L870.5 1131.9L871.7 1124.9L871.9 1112.6L876.1 1101.7L873.7 1093.1L876.7 1088.4L875.7 1081.2L878.7 1076.3L877.2 1066.6L881.0 1054.9L879.8 1049.8L880.3 1038.5L884.8 1034.2L883.2 1026.9L885.8 1020.3L888.4 1009.6L885.7 1000.1L888.2 995.1L887.4 987.2L889.2 982.4L890.7 972.3L890.5 967.1L890.2 955.6L890.0 950.7L895.0 944.3L895.5 934.1L896.0 923.8L896.2 914.6L897.6 905.6L898.2 898.5L895.2 892.1L898.6 885.1L899.8 880.1L898.5 870.0L901.6 858.6L898.8 846.7L902.5 835.0L902.4 825.9L906.0 820.2L904.2 810.0L906.9 804.2L905.6 792.9L909.6 788.0L907.6 775.8L909.3 763.7L907.2 758.3L907.4 750.1L913.2 740.4L911.0 732.4L909.7 722.7L914.1 717.0L915.9 710.2L915.4 699.1L913.9 688.7L914.5 683.7L914.6 676.5L917.4 668.6L919.3 661.6L920.6 650.6L922.6 639.0L919.4 631.5L923.1 621.1L921.0 614.3L923.1 603.6L923.7 594.2L927.5 585.1L929.1 573.7L929.1 564.6L926.5 556.0L927.5 549.8L932.3 543.9L929.0 534.2L932.3 526.5L930.2 520.5L933.8 509.3L934.8 504.3L932.7 493.7L934.2 481.5L938.1 472.7L934.3 466.4L935.8 454.1L939.9 448.1L939.0 438.4L942.5 427.2L941.5 422.0L940.1 414.7L941.6 407.6L939.9 396.1L942.8 386.2L946.4 376.7L943.2 370.7L946.6 363.6L950.3 352.4L950.6 341.3L949.9 329.9L953.9 321.5L955.9 310.5L959.5 299.5L959.6 298.1L966.0 309.1L966.1 317.1L964.0 322.6L969.6 334.4L967.1 346.8L969.0 351.7L973.5 359.9L974.6 370.6L970.1 380.1L971.4 385.2L972.4 393.5L975.5 405.6L976.0 412.5L976.8 420.8L979.3 431.7L979.6 442.8L978.9 450.9L981.3 461.9L979.7 467.1L981.4 479.2L982.8 490.2L981.5 497.2L985.1 509.1L985.1 521.1L987.6 533.1L988.1 538.3L988.0 550.3L988.6 558.6L989.9 563.7L990.6 572.0L991.2 577.0L992.2 581.8L992.5 593.9L993.9 600.8L994.2 605.6L994.4 611.5L993.6 623.8L996.5 635.2L996.8 643.3L997.1 649.4L996.6 655.7L997.5 662.9L996.5 668.0L997.5 679.0L998.3 691.0L999.8 701.0L999.4 705.0L1000.0 709.0L1000.3 712.0L1000.8 718.0L1001.2 722.0L1001.8 728.0L1002.1 733.0L1002.5 736.0L1002.6 742.0L1003.1 746.0L1002.9 752.0L1003.6 757.0L1003.8 760.0L1004.3 764.0L1004.0 768.0L1004.6 771.0L1005.5 776.0L1005.0 779.0L1006.2 785.0L1006.4 788.0L1006.8 793.0L1006.4 797.0L1006.7 803.0L1007.5 809.0L1007.8 812.0L1007.6 815.0L1008.4 820.0L1009.3 825.0L1009.1 831.0L1009.5 834.0L1010.4 839.0L1010.9 843.0L1010.7 848.0L1011.1 853.0L1011.6 859.0L1012.8 865.0L1013.2 871.0L1013.5 874.0L1013.6 878.0L1013.9 881.0L1014.1 884.0L1014.8 889.0L1014.7 892.0L1015.7 897.0L1016.2 903.0L1016.0 907.0L1016.0 910.0L1017.3 916.0L1017.7 922.0L1018.3 928.1L1018.6 932.2L1018.5 937.5L1019.5 943.7L1020.2 949.9L1020.3 953.0L1021.0 957.0L1021.2 960.9L1021.3 966.6L1022.7 970.9L1022.7 975.4L1023.3 980.4L1024.3 983.2L1025.5 986.8L1025.9 992.7L1027.0 998.9L1027.9 1003.5L1028.2 1006.3L1028.8 1011.1L1030.0 1017.0L1030.5 1021.0L1030.9 1025.2L1031.3 1029.3L1030.8 1032.5L1032.0 1037.7L1032.3 1041.9L1033.4 1046.9L1033.3 1052.1L1034.5 1058.0L1035.8 1064.0L1036.5 1069.0L1037.5 1073.0L1038.4 1079.0L1038.9 1082.0L1039.6 1085.0L1039.9 1088.0L1041.0 1093.0L1041.8 1099.0L1042.8 1105.1L1043.6 1108.1L1044.6 1114.2L1045.4 1117.3L1046.6 1121.2L1047.5 1127.4L1048.3 1131.4L1048.5 1134.5L1049.9 1140.4L1050.8 1143.3L1051.3 1147.2L1052.7 1153.2L1054.1 1157.1L1055.1 1162.2L1056.4 1167.2L1057.7 1170.0L1058.1 1173.0L1059.2 1176.8L1060.5 1181.6L1062.8 1186.1L1063.5 1189.0L1065.1 1194.9L1066.2 1199.9L1068.1 1202.5L1068.8 1207.6L1070.3 1211.3L1072.1 1213.8L1074.0 1219.5L1075.3 1223.2L1076.4 1227.1L1079.3 1231.5L1081.5 1237.2L1082.9 1239.9L1084.8 1245.8L1088.2 1249.8L1093.7 1257.0L1098.2 1265.2L1101.2 1270.6L1104.9 1275.4L1110.1 1282.9L1119.8 1290.7L1127.9 1300.0L1134.8 1304.5L1145.1 1310.8L1155.2 1316.5L1164.2 1319.0L1173.7 1323.4L1179.2 1322.2L1186.9 1325.5L1196.0 1324.7L1204.0 1324.8L1209.0 1325.6L1220.0 1323.9L1225.1 1323.9L1234.8 1320.7L1243.6 1318.1L1254.5 1315.4L1259.7 1314.7L1268.1 1313.6L1275.7 1310.3L1287.8 1307.8L1300.0 1307.6L1307.9 1305.7L1314.0 1308.3L1321.0 1308.2L1328.0 1306.7L1337.1 1306.6L1348.8 1310.4L1361.2 1309.7L1372.1 1311.9L1376.9 1314.6L1389.5 1314.9L1401.2 1318.3L1408.3 1319.4L1412.4 1322.5L1421.2 1327.2L1426.2 1329.0L1431.3 1334.1L1439.1 1342.6L1445.2 1347.8L1451.3 1352.7L1456.0 1356.6L1460.4 1359.3L1465.8 1366.3L1477.1 1370.4L1489.5 1370.1L1492.7 1369.5L1494.9 1370.4L1499.7 1369.8L1504.0 1370.1L1506.8 1370.7L1510.6 1370.2L1515.6 1370.0L1521.8 1370.0L1528.2 1370.2L1534.8 1369.7L1538.1 1369.7L1544.7 1369.6L1551.3 1369.4L1555.6 1369.2L1559.8 1370.2L1565.0 1369.9L1571.0 1370.0L1576.0 1368.7L1579.0 1369.4L1585.0 1369.2L1591.0 1368.6L1594.0 1369.6L1600.0 1369.1L1605.0 1369.1L1608.0 1368.1L1614.0 1368.7L1618.0 1368.8L1624.0 1367.7L1629.0 1368.2L1633.0 1368.1L1636.0 1367.2L1640.0 1367.8L1644.0 1367.7L1649.1 1367.4L1654.2 1366.7L1660.3 1366.3L1666.6 1367.1L1671.7 1366.3L1676.9 1366.3L1683.0 1365.7L1688.1 1365.9L1693.2 1365.7L1697.1 1365.2L1701.0 1364.6L1704.9 1364.4L1709.6 1364.2L1712.5 1364.5L1718.1 1364.0L1724.6 1363.2L1730.9 1362.1L1734.0 1362.4L1740.1 1362.3L1743.1 1361.2L1746.0 1360.8L1751.8 1360.1L1757.6 1360.0L1760.4 1359.1L1764.2 1358.9L1767.1 1359.3L1772.4 1358.2L1775.6 1357.9L1780.8 1356.4L1785.1 1356.5L1791.0 1354.7L1795.1 1354.7L1798.6 1353.2L1803.6 1351.9L1808.9 1350.5L1811.8 1349.3L1816.3 1347.0L1820.9 1345.2L1823.9 1344.2L1827.7 1342.3L1830.6 1341.5L1833.2 1340.2L1836.2 1339.2L1840.2 1334.0L1843.6 1332.6L1845.8 1330.5L1849.4 1325.0L1853.1 1322.7L1856.4 1318.5L1858.5 1316.4L1862.1 1313.8L1864.9 1312.5L1866.2 1309.6L1871.0 1305.8L1873.5 1303.8L1877.0 1301.5L1881.5 1297.5L1884.4 1293.0L1887.7 1290.2L1890.1 1285.5L1891.5 1282.7L1893.7 1280.3L1894.1 1277.2L1896.2 1274.8L1897.2 1268.7L1898.1 1265.7L1899.5 1262.9L1901.4 1257.1L1902.6 1252.2L1904.7 1247.5L1905.2 1244.4L1906.4 1240.4L1908.8 1235.8L1909.7 1231.9L1909.3 1228.7L1909.6 1224.7L1911.4 1220.9L1910.9 1217.6L1913.1 1213.7L1912.9 1210.6L1913.8 1205.7L1913.7 1200.5L1915.4 1194.4L1915.7 1188.1L1915.8 1183.9L1916.5 1180.9L1917.5 1177.0L1918.2 1170.9L1918.3 1167.9L1918.6 1163.9L1918.8 1158.9L1920.2 1155.0L1919.8 1152.0L1921.1 1146.1L1920.2 1140.0L1919.9 1136.0L1920.1 1132.0L1920.4 1128.0L1921.9 1123.0L1921.8 1117.0L1921.9 1112.9L1921.7 1108.8L1922.4 1103.7L1923.8 1100.7L1923.4 1096.7L1923.5 1091.8L1925.1 1086.8L1925.1 1081.4L1925.2 1075.2L1926.0 1071.3L1926.7 1066.4L1926.5 1060.1L1926.2 1054.0L1927.0 1053.0"/>
<path class="crv" stroke="#0000ff" d="M468.8 1380.0L471.8 1379.5L476.8 1379.5L481.8 1379.8L484.8 1380.5L489.9 1379.7L494.9 1380.2L500.0 1380.0L505.0 1380.2L511.1 1380.2L516.1 1380.7L519.1 1380.4L523.2 1381.0L527.2 1380.6L533.2 1380.7L537.1 1380.2L542.1 1380.7L546.1 1380.7L549.0 1380.4L552.0 1380.7L557.2 1380.5L561.3 1380.0L565.4 1380.7L568.5 1380.4L571.6 1380.0L576.8 1379.9L583.0 1379.8L587.1 1380.7L591.2 1380.1L594.2 1380.3L598.2 1380.4L603.2 1379.8L606.2 1380.1L610.1 1380.2L615.8 1379.3L619.5 1379.4L624.1 1379.8L627.2 1378.9L631.5 1379.4L637.7 1379.2L642.7 1378.6L645.8 1379.4L651.6 1378.6L656.5 1378.5L662.2 1377.8L668.1 1378.3L672.0 1377.3L676.0 1377.1L680.0 1377.2L685.1 1376.9L691.3 1376.6L696.4 1376.0L702.5 1375.7L705.5 1375.4L711.6 1375.4L716.5 1375.1L721.3 1374.3L727.2 1373.9L730.2 1372.8L734.5 1372.7L737.5 1372.2L741.6 1371.8L747.6 1370.6L750.5 1369.9L755.2 1368.9L759.9 1368.3L764.6 1366.7L767.8 1366.2L771.9 1365.2L777.6 1362.8L782.3 1361.4L786.9 1359.7L790.2 1356.9L794.0 1355.2L799.0 1351.7L803.0 1348.4L806.2 1345.8L809.0 1344.4L811.0 1342.1L815.8 1337.9L818.1 1335.8L821.9 1330.8L824.2 1327.5L827.0 1324.4L829.5 1320.0L831.5 1316.4L834.2 1312.0L836.8 1307.5L837.7 1304.6L838.4 1301.5L839.9 1297.6L842.2 1292.9L844.2 1289.2L845.0 1286.1L845.8 1282.1L847.2 1278.3L848.6 1273.4L849.6 1270.4L850.0 1267.4L851.2 1262.4L851.6 1259.4L853.2 1247.2L857.8 1236.6L859.2 1227.4L860.8 1217.5L861.2 1207.2L862.4 1202.2L864.7 1194.3L865.0 1182.2L867.2 1172.4L864.7 1165.9L866.2 1153.9L869.0 1148.2L870.3 1141.2L870.8 1136.1L873.3 1125.1L870.3 1116.6L872.6 1108.5L873.0 1099.2L877.6 1090.6L879.8 1078.5L880.9 1068.1L882.1 1060.0L879.2 1051.7L882.3 1041.8L882.5 1029.9L887.0 1024.3L887.6 1017.5L886.6 1005.4L887.3 996.0L885.9 990.0L887.4 984.3L889.2 979.4L891.0 973.4L892.0 962.9L889.0 956.4L893.4 951.1L891.7 939.9L895.8 934.2L893.0 928.7L893.1 920.5L897.4 909.6L894.5 903.3L896.2 894.2L900.0 889.3L897.1 879.9L900.0 873.1L899.8 863.2L898.8 857.3L901.6 845.0L900.6 838.8L902.6 831.0L905.7 822.2L906.2 816.2L906.6 804.2L904.2 792.8L906.6 787.7L907.2 775.8L911.3 765.9L907.4 759.4L909.1 749.1L909.3 741.1L909.8 735.3L913.8 730.5L910.7 721.8L915.3 716.2L915.6 708.2L914.5 698.0L913.7 692.8L917.1 683.9L918.7 675.9L915.9 663.3L920.3 657.6L919.5 651.5L919.7 646.6L922.7 641.0L923.6 633.0L924.8 621.2L923.4 609.6L922.5 602.5L925.7 595.5L925.7 586.0L929.4 573.7L929.5 561.6L927.5 556.1L928.6 547.8L931.5 537.6L930.2 527.3L931.9 516.0L933.4 505.2L936.6 494.0L935.1 484.8L938.3 474.6L936.7 464.6L938.9 456.5L939.5 451.2L938.1 441.5L941.3 434.3L942.7 423.2L940.8 410.6L941.2 400.3L940.9 395.2L945.9 383.5L947.3 373.9L946.6 362.5L944.9 353.8L947.5 346.9L951.1 335.6L951.7 327.9L954.5 316.2L953.7 310.9L954.4 301.8L962.3 295.9L966.7 305.3L964.1 311.2L964.4 320.4L969.7 332.5L967.5 343.7L970.4 351.5L969.3 364.5L969.9 369.1L974.2 379.7L976.4 388.9L972.5 399.7L976.7 411.4L978.2 423.7L976.5 433.0L978.7 439.8L980.4 449.8L981.6 460.8L982.4 466.9L981.2 476.2L982.4 483.2L981.0 490.4L983.2 501.1L984.6 513.2L985.5 522.1L986.9 527.0L987.1 536.4L989.0 547.1L988.0 558.6L990.9 565.7L991.1 576.0L991.4 581.0L991.9 586.6L991.8 591.9L992.5 601.9L992.8 613.7L995.6 622.8L995.3 632.3L995.4 643.3L995.8 652.6L996.6 660.8L997.7 672.0L997.5 678.0L997.8 687.0L999.3 694.0L999.2 703.0L999.7 706.0L1000.0 711.0L1001.0 715.0L1001.1 721.0L1001.6 727.0L1001.6 730.0L1002.0 734.0L1002.4 740.0L1002.7 746.0L1003.3 749.0L1004.0 755.0L1003.7 760.0L1004.2 764.0L1004.7 770.0L1005.6 776.0L1005.9 780.0L1006.1 783.0L1005.7 786.0L1006.4 792.0L1006.4 795.0L1006.6 798.0L1007.2 802.0L1007.1 806.0L1007.1 809.0L1008.2 812.0L1008.7 818.0L1008.9 821.0L1008.3 824.0L1009.3 829.0L1009.5 834.0L1009.7 838.0L1010.0 841.0L1010.6 846.0L1011.1 849.0L1011.8 854.0L1011.4 857.0L1012.6 863.0L1012.7 869.0L1013.4 874.0L1013.3 878.0L1014.3 881.0L1014.4 884.0L1014.4 887.0L1014.3 891.0L1015.1 896.0L1015.4 902.0L1016.1 906.0L1016.6 912.0L1017.0 916.0L1017.0 922.0L1018.2 928.1L1018.1 934.4L1018.5 937.5L1019.0 941.7L1019.4 947.9L1020.4 954.0L1020.5 959.0L1020.7 961.9L1021.9 966.5L1022.6 970.1L1023.1 974.2L1023.6 980.4L1024.1 983.2L1025.4 985.9L1026.2 990.6L1026.7 993.6L1027.7 1000.0L1028.2 1004.4L1029.2 1009.1L1029.9 1014.9L1030.2 1019.0L1030.1 1023.1L1031.0 1027.2L1031.3 1032.5L1031.2 1035.7L1032.4 1041.9L1033.5 1046.9L1033.5 1053.1L1035.1 1058.0L1035.8 1063.0L1036.6 1069.0L1037.7 1075.0L1038.1 1078.0L1039.2 1082.0L1039.0 1085.1L1039.8 1089.1L1041.6 1093.9L1041.4 1098.1L1042.4 1103.1L1044.0 1108.0L1044.0 1111.2L1045.2 1116.2L1046.6 1121.2L1047.1 1124.3L1047.2 1128.5L1048.0 1132.5L1049.9 1138.4L1050.2 1141.4L1051.0 1144.3L1052.4 1150.0L1053.6 1155.1L1054.2 1158.2L1055.6 1163.2L1056.5 1167.1L1058.2 1172.9L1060.2 1178.6L1061.0 1181.5L1061.9 1185.3L1063.4 1190.0L1064.6 1194.0L1066.2 1198.8L1068.1 1203.5L1070.0 1208.2L1070.8 1212.2L1072.3 1215.9L1074.2 1221.5L1076.6 1227.0L1079.0 1231.6L1081.0 1235.2L1082.3 1239.1L1083.9 1242.9L1085.2 1246.8L1091.8 1255.7L1095.5 1264.5L1098.6 1268.6L1102.5 1272.2L1104.4 1277.0L1109.2 1282.2L1117.1 1287.7L1121.3 1295.1L1129.6 1301.1L1134.2 1305.4L1139.7 1306.4L1143.6 1309.5L1151.5 1314.5L1161.2 1318.1L1172.8 1322.6L1184.8 1325.5L1192.9 1326.2L1203.0 1326.0L1213.9 1323.5L1224.2 1324.3L1232.6 1320.4L1238.9 1320.5L1248.0 1318.8L1252.9 1317.3L1264.7 1313.0L1269.8 1311.8L1282.0 1310.2L1288.8 1308.0L1295.1 1308.8L1303.0 1308.1L1310.0 1305.8L1318.0 1307.3L1327.0 1306.3L1335.9 1308.9L1342.1 1307.5L1347.9 1309.6L1357.9 1311.1L1366.2 1310.7L1371.9 1313.1L1378.0 1314.6L1386.4 1314.9L1396.0 1317.0L1406.4 1318.5L1413.8 1321.9L1423.3 1329.5L1429.9 1332.5L1434.3 1338.6L1442.1 1345.2L1450.2 1352.5L1456.5 1356.0L1462.0 1362.5L1469.7 1367.9L1475.6 1368.1L1484.9 1370.0L1492.0 1369.9L1494.1 1370.4L1498.8 1370.4L1502.2 1370.9L1507.7 1370.8L1513.6 1370.5L1518.7 1370.8L1521.8 1370.1L1528.2 1370.2L1531.5 1370.7L1535.9 1370.3L1542.5 1369.8L1546.9 1370.3L1553.4 1369.5L1558.8 1370.1L1561.9 1369.6L1565.0 1369.5L1571.0 1368.9L1576.0 1369.1L1581.0 1369.7L1584.0 1369.1L1590.0 1369.0L1596.0 1369.5L1601.0 1368.9L1605.0 1369.0L1609.0 1368.0L1614.0 1368.3L1617.0 1368.1L1622.0 1368.4L1625.0 1368.3L1631.0 1368.1L1637.0 1367.9L1643.0 1367.4L1648.0 1366.8L1651.1 1367.0L1654.2 1367.1L1658.3 1366.3L1661.4 1366.9L1667.6 1366.5L1672.7 1366.4L1677.9 1365.7L1684.0 1366.0L1687.1 1366.0L1692.1 1364.9L1698.1 1365.6L1703.0 1364.9L1705.8 1364.3L1710.6 1364.5L1715.2 1363.4L1721.4 1363.9L1726.7 1362.6L1729.9 1362.8L1736.0 1361.9L1741.1 1362.0L1744.1 1361.2L1748.1 1361.5L1753.9 1360.7L1756.7 1360.0L1761.3 1359.0L1766.9 1358.3L1772.3 1358.0L1776.7 1357.7L1779.8 1356.9L1786.1 1356.3L1790.1 1355.0L1793.1 1354.9L1796.8 1353.8L1799.5 1353.3L1804.3 1351.5L1807.9 1350.9L1811.0 1349.9L1813.7 1348.5L1817.5 1347.4L1820.2 1346.2L1822.9 1344.6L1825.8 1343.2L1831.9 1341.7L1836.3 1339.3L1839.6 1336.4L1842.2 1332.8L1845.4 1330.1L1849.1 1324.7L1854.0 1322.1L1858.3 1317.6L1862.8 1312.7L1866.5 1310.0L1870.5 1307.0L1874.4 1305.0L1876.8 1301.3L1880.2 1299.0L1883.3 1294.8L1886.7 1292.1L1887.7 1287.8L1890.7 1284.7L1892.0 1281.8L1893.5 1279.1L1895.1 1275.4L1896.7 1272.8L1898.5 1267.0L1900.1 1263.1L1901.6 1257.2L1903.3 1253.5L1903.4 1250.3L1904.4 1247.4L1906.0 1244.6L1906.6 1238.3L1908.1 1235.6L1908.8 1230.6L1909.0 1227.6L1909.8 1223.7L1911.9 1217.8L1912.6 1214.7L1913.0 1210.6L1914.0 1205.7L1914.7 1200.6L1914.8 1195.4L1916.1 1192.4L1916.5 1186.1L1917.8 1180.1L1918.3 1175.0L1918.7 1169.0L1918.1 1165.9L1919.4 1163.0L1918.9 1158.9L1920.4 1153.0L1919.9 1149.0L1919.8 1144.0L1921.4 1139.0L1921.6 1134.0L1920.3 1129.0L1920.9 1125.0L1921.1 1120.0L1921.2 1114.9L1922.0 1108.8L1922.0 1102.6L1923.8 1096.7L1923.9 1093.8L1923.6 1090.0L1923.9 1084.5L1925.1 1081.4L1924.6 1077.2L1925.0 1074.2L1925.8 1071.3L1925.8 1067.5L1925.6 1062.0L1926.6 1059.1L1926.1 1054.0L1927.0 1053.0"/>
<path class="crv" stroke="#ff8000" d="M488.8 1347.5L491.7 1346.7L495.6 1346.3L500.6 1345.6L503.6 1345.5L508.5 1344.5L514.4 1343.2L517.2 1342.3L522.1 1341.1L526.9 1339.6L530.7 1338.2L535.5 1336.6L538.4 1335.6L543.2 1334.0L548.1 1332.5L554.0 1330.7L559.8 1329.0L562.6 1327.8L565.3 1326.4L569.9 1324.0L572.8 1323.1L578.2 1320.2L581.5 1318.1L585.0 1316.2L589.3 1313.4L591.5 1311.3L594.0 1309.5L596.2 1307.4L600.8 1303.6L603.2 1301.8L606.3 1299.1L610.5 1294.7L614.8 1290.4L616.7 1288.1L620.8 1283.5L624.7 1278.6L627.5 1275.7L630.7 1271.7L632.6 1269.4L636.0 1264.4L638.5 1258.9L642.0 1255.2L644.3 1250.7L646.3 1247.1L650.2 1242.7L651.7 1240.0L653.4 1237.4L655.9 1235.4L658.7 1231.4L662.5 1228.1L664.2 1225.3L667.7 1223.2L669.9 1221.0L674.5 1218.2L678.6 1216.6L683.5 1214.5L688.6 1213.2L692.8 1213.3L697.0 1213.2L703.1 1214.0L709.0 1215.9L713.7 1218.0L716.5 1219.4L721.6 1223.1L725.9 1225.8L728.2 1227.7L730.1 1230.0L733.5 1232.3L738.3 1236.2L743.5 1239.7L745.9 1241.8L750.0 1245.0L755.1 1248.2L758.5 1250.5L761.8 1252.7L764.8 1255.4L769.4 1258.0L772.4 1259.1L778.2 1261.5L784.0 1264.0L786.8 1265.6L789.7 1266.8L792.8 1267.7L796.0 1268.2L798.8 1269.4L803.0 1269.7L808.2 1270.8L814.3 1272.6L818.2 1272.3L824.2 1273.3L830.4 1274.2L833.5 1274.2L838.5 1275.0L841.5 1275.9L845.5 1277.0L848.4 1277.9L851.4 1278.6L857.5 1279.8L862.5 1281.1L867.6 1282.1L871.5 1283.4L876.4 1285.2L882.6 1285.9L885.4 1287.5L890.5 1288.2L896.7 1289.1L902.6 1290.9L905.7 1291.0L911.6 1292.1L914.6 1293.2L918.9 1293.7L921.9 1294.6L924.9 1295.5L927.9 1295.9L932.4 1297.7L938.7 1298.8L941.6 1299.5L945.9 1300.7L951.2 1302.3L957.1 1303.7L962.0 1305.8L967.1 1307.4L972.1 1308.7L978.1 1310.5L983.0 1312.1L988.0 1313.5L992.1 1314.1L995.0 1315.4L1001.0 1316.6L1006.0 1317.8L1010.1 1318.5L1013.0 1319.2L1015.9 1320.6L1019.9 1321.4L1024.9 1322.4L1030.9 1323.6L1036.1 1324.0L1039.9 1325.4L1045.0 1325.9L1051.1 1326.9L1054.0 1327.7L1059.1 1328.6L1062.9 1329.9L1067.1 1330.1L1070.9 1331.6L1076.0 1332.4L1079.0 1332.8L1082.0 1333.5L1085.0 1334.3L1089.1 1334.6L1093.0 1335.7L1099.0 1336.5L1102.0 1336.9L1108.0 1338.4L1111.0 1338.8L1113.9 1339.3L1118.0 1339.3L1121.0 1339.7L1127.0 1340.8L1130.0 1341.5L1135.0 1341.8L1139.9 1343.2L1144.0 1343.5L1147.0 1344.0L1150.0 1344.3L1155.0 1344.3L1158.0 1345.1L1162.0 1345.2L1165.0 1345.6L1169.0 1346.5L1175.1 1346.2L1178.1 1346.8L1183.2 1347.4L1187.2 1347.7L1193.1 1347.7L1199.2 1347.7L1203.4 1348.0L1207.4 1347.0L1210.4 1346.8L1213.2 1346.4L1217.1 1346.0L1220.4 1345.3L1223.6 1344.7L1228.4 1343.4L1233.5 1341.5L1237.3 1339.8L1243.9 1343.3L1250.7 1350.0L1256.0 1350.9L1266.5 1354.9L1275.1 1358.7L1287.4 1360.7L1292.8 1360.6L1300.0 1361.9L1308.5 1366.1L1317.0 1365.7L1325.6 1369.4L1338.0 1369.4L1343.0 1368.3L1353.6 1369.0L1363.3 1364.9L1373.5 1366.6L1379.6 1366.1L1384.6 1366.6L1390.4 1363.0L1398.5 1363.3L1410.5 1362.8L1421.6 1363.3L1426.5 1361.4L1434.6 1362.7L1440.5 1359.7L1448.9 1361.0L1461.0 1360.4L1472.1 1357.5L1483.6 1356.0L1494.2 1359.1L1505.0 1358.4L1514.2 1356.8L1525.0 1355.5L1532.7 1357.6L1541.9 1354.6L1554.0 1356.5L1562.0 1355.2L1566.9 1353.1L1578.0 1355.1L1585.0 1354.5L1592.0 1353.2L1600.0 1352.5L1605.2 1352.4L1611.3 1353.0L1619.6 1354.5L1624.5 1350.7L1630.5 1352.3L1635.5 1352.9L1646.1 1349.3L1651.4 1349.5L1662.7 1349.1L1667.6 1348.4L1679.3 1344.2L1684.4 1343.6L1691.0 1346.0L1699.3 1344.7L1704.5 1345.1L1711.2 1341.3L1721.3 1340.1L1730.2 1343.3L1739.3 1339.4L1748.8 1338.0L1756.8 1328.8L1759.5 1327.5"/>
<path class="crv" stroke="#ff8000" d="M488.8 1347.5L491.7 1346.8L494.7 1346.5L498.6 1346.2L501.6 1345.4L506.6 1345.0L511.5 1343.8L514.5 1343.6L517.4 1342.9L523.0 1340.8L528.0 1339.7L533.7 1337.6L537.5 1336.2L541.5 1335.3L546.3 1333.5L549.3 1332.9L553.1 1331.2L557.8 1329.2L561.6 1327.9L564.4 1326.7L567.1 1325.3L571.7 1323.0L577.1 1320.3L581.5 1318.0L584.9 1316.0L587.4 1314.3L592.7 1311.1L596.4 1307.7L600.2 1304.4L602.7 1302.7L604.6 1300.3L607.1 1298.4L608.9 1295.9L612.6 1292.5L614.8 1290.4L618.4 1286.9L622.3 1282.0L625.5 1278.0L627.7 1275.9L630.0 1272.5L633.8 1267.8L636.7 1262.5L640.1 1257.6L643.3 1252.5L645.5 1249.0L647.5 1245.6L650.9 1240.6L653.3 1238.5L656.9 1233.7L660.9 1229.4L665.3 1225.1L669.1 1221.7L673.5 1218.7L676.4 1217.2L682.5 1215.0L686.7 1214.4L690.7 1213.0L693.9 1213.6L700.0 1213.8L706.2 1214.8L708.9 1216.3L712.8 1217.6L718.3 1220.5L723.3 1224.4L727.2 1227.3L731.6 1231.4L736.5 1235.1L739.1 1236.8L742.2 1239.7L747.4 1243.3L751.1 1245.2L753.1 1247.6L756.7 1249.5L760.7 1252.5L764.9 1255.1L770.4 1258.4L773.5 1259.3L779.1 1262.0L785.1 1264.2L788.9 1266.0L793.8 1268.1L799.8 1269.7L805.1 1270.2L808.1 1271.1L814.3 1272.3L818.1 1273.2L821.1 1273.4L826.3 1273.3L829.4 1273.8L835.4 1275.1L839.6 1275.1L845.5 1277.0L850.5 1278.2L854.6 1278.9L857.6 1279.5L861.5 1280.9L865.5 1282.2L870.5 1283.2L875.5 1284.7L881.5 1286.2L884.6 1286.5L890.5 1288.1L893.6 1288.4L896.6 1289.4L902.6 1290.8L907.7 1291.3L912.5 1292.4L917.7 1294.2L920.8 1294.6L926.9 1296.0L931.5 1297.6L936.7 1298.6L942.6 1300.0L948.6 1301.0L954.1 1303.0L960.0 1305.2L963.1 1306.1L967.0 1307.7L973.0 1309.1L976.9 1310.8L980.1 1311.0L984.9 1313.1L989.9 1314.2L995.0 1315.2L998.0 1316.0L1004.0 1317.3L1009.9 1319.1L1016.0 1320.0L1021.1 1320.9L1027.1 1322.1L1030.0 1323.0L1034.0 1324.1L1038.0 1324.8L1043.0 1325.7L1046.0 1326.0L1049.9 1327.4L1056.0 1328.3L1059.9 1329.4L1065.0 1330.0L1071.0 1331.2L1075.0 1332.2L1081.0 1333.2L1086.9 1334.8L1091.9 1335.9L1098.0 1336.6L1102.0 1337.3L1104.9 1338.0L1111.0 1338.4L1117.0 1339.3L1121.0 1339.9L1127.0 1341.0L1133.0 1341.8L1138.0 1342.7L1142.1 1342.8L1146.9 1344.3L1153.0 1344.8L1156.0 1345.0L1159.0 1345.5L1163.0 1345.9L1166.0 1346.1L1171.0 1345.9L1175.1 1346.3L1181.2 1346.9L1185.2 1347.5L1188.2 1347.6L1193.1 1347.9L1199.2 1348.3L1204.4 1347.5L1208.5 1347.4L1213.2 1346.2L1219.3 1345.3L1224.7 1345.0L1228.5 1343.7L1231.7 1342.8L1234.4 1340.8L1238.0 1341.3L1244.7 1346.2L1250.3 1346.0L1257.6 1349.5L1268.2 1352.9L1276.9 1355.5L1282.8 1357.6L1292.2 1358.3L1303.5 1364.8L1311.8 1365.5L1318.3 1364.3L1323.3 1365.4L1327.7 1369.3L1336.0 1368.0L1347.2 1368.6L1356.3 1365.4L1365.5 1366.9L1375.4 1364.2L1387.4 1362.6L1398.5 1363.7L1405.4 1361.5L1411.4 1361.0L1418.5 1362.0L1430.7 1363.6L1441.5 1359.0L1448.7 1358.4L1458.5 1358.6L1465.7 1356.2L1477.9 1357.6L1486.3 1357.3L1495.9 1356.8L1504.0 1355.6L1512.0 1355.8L1518.5 1357.8L1528.3 1356.1L1540.0 1356.9L1552.0 1356.8L1561.9 1353.7L1567.1 1356.2L1576.1 1356.7L1585.0 1355.0L1593.0 1352.9L1598.0 1352.4L1605.2 1353.8L1612.4 1352.9L1621.6 1353.6L1629.4 1350.0L1640.1 1351.3L1651.7 1351.8L1656.5 1348.5L1666.7 1349.1L1677.3 1344.9L1690.0 1346.9L1700.2 1343.6L1709.5 1344.8L1715.2 1343.4L1728.0 1343.9L1735.0 1340.6L1743.6 1338.2L1752.4 1334.5L1759.0 1330.4L1759.5 1327.5"/>
</g>
<g id="axes" shape-rendering="crispEdges">
<rect x="327.6" y="52.4" width="1811.9" height="1344.0" fill="none" stroke="#000" stroke-width="7"/>
<line class="ax" x1="324.1" y1="1396.4" x2="301.6" y2="1396.4"/>
<line class="ax" x1="324.1" y1="1300.4" x2="314.1" y2="1300.4"/>
<line class="ax" x1="324.1" y1="1204.4" x2="301.6" y2="1204.4"/>
<line class="ax" x1="324.1" y1="1108.4" x2="314.1" y2="1108.4"/>
<line class="ax" x1="324.1" y1="1012.4" x2="301.6" y2="1012.4"/>
<line class="ax" x1="324.1" y1="916.4" x2="314.1" y2="916.4"/>
<line class="ax" x1="324.1" y1="820.4" x2="301.6" y2="820.4"/>
<line class="ax" x1="324.1" y1="724.4" x2="314.1" y2="724.4"/>
<line class="ax" x1="324.1" y1="628.4" x2="301.6" y2="628.4"/>
<line class="ax" x1="324.1" y1="532.4" x2="314.1" y2="532.4"/>
<line class="ax" x1="324.1" y1="436.4" x2="301.6" y2="436.4"/>
<line class="ax" x1="324.1" y1="340.4" x2="314.1" y2="340.4"/>
<line class="ax" x1="324.1" y1="244.4" x2="301.6" y2="244.4"/>
<line class="ax" x1="324.1" y1="148.4" x2="314.1" y2="148.4"/>
<line class="ax" x1="324.1" y1="52.4" x2="301.6" y2="52.4"/>
<line class="ax" x1="327.6" y1="1399.9" x2="327.6" y2="1409.4"/>
<line class="ax" x1="434.2" y1="1399.9" x2="434.2" y2="1422.4"/>
<line class="ax" x1="540.8" y1="1399.9" x2="540.8" y2="1409.4"/>
<line class="ax" x1="647.3" y1="1399.9" x2="647.3" y2="1422.4"/>
<line class="ax" x1="753.9" y1="1399.9" x2="753.9" y2="1409.4"/>
<line class="ax" x1="860.5" y1="1399.9" x2="860.5" y2="1422.4"/>
<line class="ax" x1="967.1" y1="1399.9" x2="967.1" y2="1409.4"/>
<line class="ax" x1="1073.7" y1="1399.9" x2="1073.7" y2="1422.4"/>
<line class="ax" x1="1180.3" y1="1399.9" x2="1180.3" y2="1409.4"/>
<line class="ax" x1="1286.8" y1="1399.9" x2="1286.8" y2="1422.4"/>
<line class="ax" x1="1393.4" y1="1399.9" x2="1393.4" y2="1409.4"/>
<line class="ax" x1="1500.0" y1="1399.9" x2="1500.0" y2="1422.4"/>
<line class="ax" x1="1606.6" y1="1399.9" x2="1606.6" y2="1409.4"/>
<line class="ax" x1="1713.2" y1="1399.9" x2="1713.2" y2="1422.4"/>
<line class="ax" x1="1819.8" y1="1399.9" x2="1819.8" y2="1409.4"/>
<line class="ax" x1="1926.3" y1="1399.9" x2="1926.3" y2="1422.4"/>
<line class="ax" x1="2032.9" y1="1399.9" x2="2032.9" y2="1409.4"/>
<line class="ax" x1="2139.5" y1="1399.9" x2="2139.5" y2="1422.4"/>
</g>
<g id="ticklabels">
<text class="tick" text-anchor="end" transform="translate(281,1415.8) scale(1.035,1)" x="0" y="0">0.0</text>
<text class="tick" text-anchor="end" transform="translate(281,1223.8) scale(1.035,1)" x="0" y="0">0.5</text>
<text class="tick" text-anchor="end" transform="translate(281,1031.8) scale(1.035,1)" x="0" y="0">1.0</text>
<text class="tick" text-anchor="end" transform="translate(281,839.8) scale(1.035,1)" x="0" y="0">1.5</text>
<text class="tick" text-anchor="end" transform="translate(281,647.8) scale(1.035,1)" x="0" y="0">2.0</text>
<text class="tick" text-anchor="end" transform="translate(281,455.8) scale(1.035,1)" x="0" y="0">2.5</text>
<text class="tick" text-anchor="end" transform="translate(281,263.8) scale(1.035,1)" x="0" y="0">3.0</text>
<text class="tick" text-anchor="end" transform="translate(281,71.8) scale(1.035,1)" x="0" y="0">3.5</text>
<text class="tick" text-anchor="middle" transform="translate(434.5,1503.8) scale(1.035,1)" x="0" y="0">20</text>
<text class="tick" text-anchor="middle" transform="translate(647.6,1503.8) scale(1.035,1)" x="0" y="0">40</text>
<text class="tick" text-anchor="middle" transform="translate(860.8,1503.8) scale(1.035,1)" x="0" y="0">60</text>
<text class="tick" text-anchor="middle" transform="translate(1074.0,1503.8) scale(1.035,1)" x="0" y="0">80</text>
<text class="tick" text-anchor="middle" transform="translate(1288.8,1503.8) scale(1.035,1)" x="0" y="0">100</text>
<text class="tick" text-anchor="middle" transform="translate(1502.0,1503.8) scale(1.035,1)" x="0" y="0">120</text>
<text class="tick" text-anchor="middle" transform="translate(1715.2,1503.8) scale(1.035,1)" x="0" y="0">140</text>
<text class="tick" text-anchor="middle" transform="translate(1928.3,1503.8) scale(1.035,1)" x="0" y="0">160</text>
<text class="tick" text-anchor="middle" transform="translate(2141.5,1503.8) scale(1.035,1)" x="0" y="0">180</text>
</g>
<text class="axl" id="xtitle" font-size="103" text-anchor="middle" transform="translate(1233.4,1670) scale(1.01,1.02)" x="0" y="0">Temperature (°C)</text>
<g transform="translate(95.0,842) rotate(-90) scale(1,1.045)"><text class="axl" id="ytitle" font-size="107" x="0" y="0">tan</text></g>
<g transform="translate(95.0,658.2) rotate(-90) scale(1.08,1)"><text id="delta" style="font-family:'Liberation Serif','DejaVu Serif',serif;font-weight:normal" stroke="#000" stroke-width="1.3" font-size="100" x="0" y="0">δ</text></g>
<g id="legend">
<rect x="1764.4" y="65.7" width="362.9" height="733.1" fill="#fff" stroke="#000" stroke-width="1.6"/>
<text class="leg" id="legtitle" transform="translate(1835.5,142.3) scale(1.02,1)" x="0" y="0">PLA/PEG</text>
<line x1="1784" y1="206.0" x2="1891" y2="206.0" stroke="#000000" stroke-width="10.5" stroke-linecap="round"/>
<text class="leg" x="1909" y="222.5">100/0</text>
<line x1="1784" y1="288.2" x2="1891" y2="288.2" stroke="#ff0000" stroke-width="10.5" stroke-linecap="round"/>
<text class="leg" x="1909" y="304.7">99/01</text>
<line x1="1784" y1="370.4" x2="1891" y2="370.4" stroke="#0000ff" stroke-width="10.5" stroke-linecap="round"/>
<text class="leg" x="1909" y="386.9">98/02</text>
<line x1="1784" y1="452.6" x2="1891" y2="452.6" stroke="#00ff00" stroke-width="10.5" stroke-linecap="round"/>
<text class="leg" x="1909" y="469.1">95/05</text>
<line x1="1784" y1="534.8" x2="1891" y2="534.8" stroke="#ff00ff" stroke-width="10.5" stroke-linecap="round"/>
<text class="leg" x="1909" y="551.3">90/10</text>
<line x1="1784" y1="617.0" x2="1891" y2="617.0" stroke="#00ffff" stroke-width="10.5" stroke-linecap="round"/>
<text class="leg" x="1909" y="633.5">85/15</text>
<line x1="1784" y1="699.2" x2="1891" y2="699.2" stroke="#8f00ff" stroke-width="10.5" stroke-linecap="round"/>
<text class="leg" x="1909" y="715.7">80/20</text>
<line x1="1784" y1="781.4" x2="1891" y2="781.4" stroke="#ff8000" stroke-width="10.5" stroke-linecap="round"/>
<text class="leg" x="1909" y="797.9">70/30</text>
</g>
</svg></body></html>
